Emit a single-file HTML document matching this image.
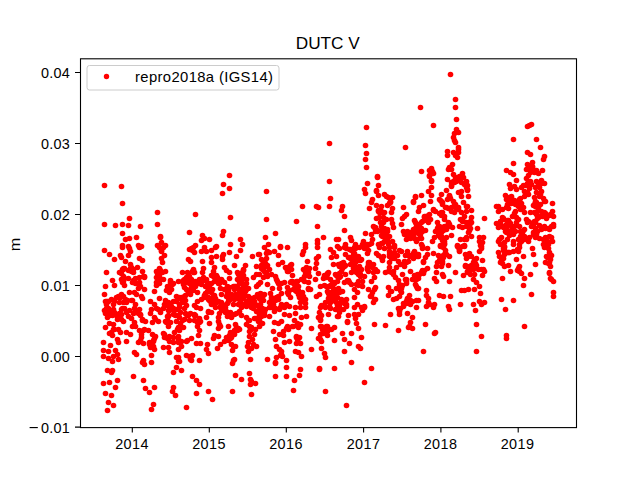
<!DOCTYPE html>
<html><head><meta charset="utf-8">
<style>
html,body{margin:0;padding:0;background:#fff;}
body{width:640px;height:480px;overflow:hidden;font-family:"Liberation Sans",sans-serif;}
svg{display:block}
text{font-family:"Liberation Sans",sans-serif;fill:#000}
</style></head><body>
<svg width="640" height="480" viewBox="0 0 640 480">
<rect x="0" y="0" width="640" height="480" fill="#fff"/>
<g id="dots" fill="#f00">
<circle cx="103.5" cy="342.5" r="2.8"/>
<circle cx="103.5" cy="350.5" r="2.8"/>
<circle cx="103.5" cy="356.5" r="2.8"/>
<circle cx="103.5" cy="383.5" r="2.8"/>
<circle cx="104.5" cy="185.5" r="2.8"/>
<circle cx="104.5" cy="224.5" r="2.8"/>
<circle cx="104.5" cy="250.5" r="2.8"/>
<circle cx="104.5" cy="294.5" r="2.8"/>
<circle cx="104.5" cy="310.5" r="2.8"/>
<circle cx="105.5" cy="286.5" r="2.8"/>
<circle cx="105.5" cy="301.5" r="2.8"/>
<circle cx="105.5" cy="313.5" r="2.8"/>
<circle cx="105.5" cy="327.5" r="2.8"/>
<circle cx="105.5" cy="393.5" r="2.8"/>
<circle cx="106.5" cy="272.5" r="2.8"/>
<circle cx="106.5" cy="301.5" r="2.8"/>
<circle cx="106.5" cy="304.5" r="2.8"/>
<circle cx="106.5" cy="308.5" r="2.8"/>
<circle cx="107.5" cy="301.5" r="2.8"/>
<circle cx="107.5" cy="317.5" r="2.8"/>
<circle cx="107.5" cy="370.5" r="2.8"/>
<circle cx="107.5" cy="410.5" r="2.8"/>
<circle cx="108.5" cy="301.5" r="2.8"/>
<circle cx="108.5" cy="308.5" r="2.8"/>
<circle cx="108.5" cy="351.5" r="2.8"/>
<circle cx="108.5" cy="358.5" r="2.8"/>
<circle cx="108.5" cy="402.5" r="2.8"/>
<circle cx="109.5" cy="254.5" r="2.8"/>
<circle cx="109.5" cy="310.5" r="2.8"/>
<circle cx="109.5" cy="315.5" r="2.8"/>
<circle cx="109.5" cy="323.5" r="2.8"/>
<circle cx="109.5" cy="333.5" r="2.8"/>
<circle cx="109.5" cy="382.5" r="2.8"/>
<circle cx="110.5" cy="314.5" r="2.8"/>
<circle cx="110.5" cy="345.5" r="2.8"/>
<circle cx="111.5" cy="299.5" r="2.8"/>
<circle cx="111.5" cy="312.5" r="2.8"/>
<circle cx="111.5" cy="332.5" r="2.8"/>
<circle cx="111.5" cy="372.5" r="2.8"/>
<circle cx="111.5" cy="395.5" r="2.8"/>
<circle cx="112.5" cy="280.5" r="2.8"/>
<circle cx="112.5" cy="315.5" r="2.8"/>
<circle cx="112.5" cy="335.5" r="2.8"/>
<circle cx="112.5" cy="361.5" r="2.8"/>
<circle cx="112.5" cy="370.5" r="2.8"/>
<circle cx="113.5" cy="304.5" r="2.8"/>
<circle cx="113.5" cy="309.5" r="2.8"/>
<circle cx="113.5" cy="324.5" r="2.8"/>
<circle cx="113.5" cy="329.5" r="2.8"/>
<circle cx="113.5" cy="356.5" r="2.8"/>
<circle cx="113.5" cy="405.5" r="2.8"/>
<circle cx="114.5" cy="259.5" r="2.8"/>
<circle cx="114.5" cy="285.5" r="2.8"/>
<circle cx="114.5" cy="301.5" r="2.8"/>
<circle cx="114.5" cy="312.5" r="2.8"/>
<circle cx="114.5" cy="329.5" r="2.8"/>
<circle cx="115.5" cy="225.5" r="2.8"/>
<circle cx="115.5" cy="350.5" r="2.8"/>
<circle cx="115.5" cy="387.5" r="2.8"/>
<circle cx="116.5" cy="297.5" r="2.8"/>
<circle cx="116.5" cy="315.5" r="2.8"/>
<circle cx="117.5" cy="319.5" r="2.8"/>
<circle cx="117.5" cy="339.5" r="2.8"/>
<circle cx="117.5" cy="354.5" r="2.8"/>
<circle cx="117.5" cy="380.5" r="2.8"/>
<circle cx="118.5" cy="296.5" r="2.8"/>
<circle cx="118.5" cy="297.5" r="2.8"/>
<circle cx="118.5" cy="317.5" r="2.8"/>
<circle cx="118.5" cy="329.5" r="2.8"/>
<circle cx="118.5" cy="342.5" r="2.8"/>
<circle cx="118.5" cy="359.5" r="2.8"/>
<circle cx="119.5" cy="272.5" r="2.8"/>
<circle cx="119.5" cy="302.5" r="2.8"/>
<circle cx="119.5" cy="313.5" r="2.8"/>
<circle cx="120.5" cy="255.5" r="2.8"/>
<circle cx="120.5" cy="272.5" r="2.8"/>
<circle cx="120.5" cy="297.5" r="2.8"/>
<circle cx="120.5" cy="332.5" r="2.8"/>
<circle cx="121.5" cy="186.5" r="2.8"/>
<circle cx="121.5" cy="257.5" r="2.8"/>
<circle cx="121.5" cy="273.5" r="2.8"/>
<circle cx="121.5" cy="279.5" r="2.8"/>
<circle cx="121.5" cy="294.5" r="2.8"/>
<circle cx="121.5" cy="309.5" r="2.8"/>
<circle cx="121.5" cy="314.5" r="2.8"/>
<circle cx="121.5" cy="319.5" r="2.8"/>
<circle cx="122.5" cy="203.5" r="2.8"/>
<circle cx="122.5" cy="224.5" r="2.8"/>
<circle cx="122.5" cy="233.5" r="2.8"/>
<circle cx="122.5" cy="245.5" r="2.8"/>
<circle cx="122.5" cy="247.5" r="2.8"/>
<circle cx="122.5" cy="269.5" r="2.8"/>
<circle cx="122.5" cy="282.5" r="2.8"/>
<circle cx="122.5" cy="308.5" r="2.8"/>
<circle cx="123.5" cy="268.5" r="2.8"/>
<circle cx="123.5" cy="269.5" r="2.8"/>
<circle cx="123.5" cy="276.5" r="2.8"/>
<circle cx="123.5" cy="281.5" r="2.8"/>
<circle cx="123.5" cy="296.5" r="2.8"/>
<circle cx="123.5" cy="302.5" r="2.8"/>
<circle cx="123.5" cy="321.5" r="2.8"/>
<circle cx="124.5" cy="268.5" r="2.8"/>
<circle cx="124.5" cy="278.5" r="2.8"/>
<circle cx="124.5" cy="285.5" r="2.8"/>
<circle cx="124.5" cy="308.5" r="2.8"/>
<circle cx="125.5" cy="239.5" r="2.8"/>
<circle cx="125.5" cy="261.5" r="2.8"/>
<circle cx="125.5" cy="299.5" r="2.8"/>
<circle cx="126.5" cy="302.5" r="2.8"/>
<circle cx="126.5" cy="312.5" r="2.8"/>
<circle cx="126.5" cy="332.5" r="2.8"/>
<circle cx="126.5" cy="341.5" r="2.8"/>
<circle cx="127.5" cy="300.5" r="2.8"/>
<circle cx="128.5" cy="225.5" r="2.8"/>
<circle cx="128.5" cy="246.5" r="2.8"/>
<circle cx="128.5" cy="255.5" r="2.8"/>
<circle cx="128.5" cy="270.5" r="2.8"/>
<circle cx="128.5" cy="278.5" r="2.8"/>
<circle cx="128.5" cy="316.5" r="2.8"/>
<circle cx="129.5" cy="218.5" r="2.8"/>
<circle cx="129.5" cy="238.5" r="2.8"/>
<circle cx="129.5" cy="248.5" r="2.8"/>
<circle cx="129.5" cy="292.5" r="2.8"/>
<circle cx="129.5" cy="310.5" r="2.8"/>
<circle cx="130.5" cy="251.5" r="2.8"/>
<circle cx="130.5" cy="264.5" r="2.8"/>
<circle cx="130.5" cy="268.5" r="2.8"/>
<circle cx="130.5" cy="334.5" r="2.8"/>
<circle cx="131.5" cy="267.5" r="2.8"/>
<circle cx="131.5" cy="271.5" r="2.8"/>
<circle cx="131.5" cy="300.5" r="2.8"/>
<circle cx="131.5" cy="318.5" r="2.8"/>
<circle cx="132.5" cy="269.5" r="2.8"/>
<circle cx="132.5" cy="282.5" r="2.8"/>
<circle cx="132.5" cy="300.5" r="2.8"/>
<circle cx="132.5" cy="326.5" r="2.8"/>
<circle cx="133.5" cy="269.5" r="2.8"/>
<circle cx="133.5" cy="272.5" r="2.8"/>
<circle cx="133.5" cy="280.5" r="2.8"/>
<circle cx="133.5" cy="313.5" r="2.8"/>
<circle cx="133.5" cy="376.5" r="2.8"/>
<circle cx="134.5" cy="292.5" r="2.8"/>
<circle cx="134.5" cy="308.5" r="2.8"/>
<circle cx="134.5" cy="322.5" r="2.8"/>
<circle cx="134.5" cy="352.5" r="2.8"/>
<circle cx="135.5" cy="278.5" r="2.8"/>
<circle cx="135.5" cy="283.5" r="2.8"/>
<circle cx="135.5" cy="304.5" r="2.8"/>
<circle cx="135.5" cy="310.5" r="2.8"/>
<circle cx="135.5" cy="311.5" r="2.8"/>
<circle cx="135.5" cy="312.5" r="2.8"/>
<circle cx="135.5" cy="326.5" r="2.8"/>
<circle cx="136.5" cy="237.5" r="2.8"/>
<circle cx="136.5" cy="294.5" r="2.8"/>
<circle cx="136.5" cy="354.5" r="2.8"/>
<circle cx="137.5" cy="267.5" r="2.8"/>
<circle cx="138.5" cy="245.5" r="2.8"/>
<circle cx="138.5" cy="288.5" r="2.8"/>
<circle cx="138.5" cy="313.5" r="2.8"/>
<circle cx="138.5" cy="342.5" r="2.8"/>
<circle cx="139.5" cy="247.5" r="2.8"/>
<circle cx="139.5" cy="258.5" r="2.8"/>
<circle cx="139.5" cy="277.5" r="2.8"/>
<circle cx="139.5" cy="282.5" r="2.8"/>
<circle cx="139.5" cy="286.5" r="2.8"/>
<circle cx="139.5" cy="309.5" r="2.8"/>
<circle cx="139.5" cy="330.5" r="2.8"/>
<circle cx="140.5" cy="226.5" r="2.8"/>
<circle cx="140.5" cy="286.5" r="2.8"/>
<circle cx="140.5" cy="314.5" r="2.8"/>
<circle cx="140.5" cy="315.5" r="2.8"/>
<circle cx="140.5" cy="340.5" r="2.8"/>
<circle cx="141.5" cy="246.5" r="2.8"/>
<circle cx="141.5" cy="296.5" r="2.8"/>
<circle cx="141.5" cy="334.5" r="2.8"/>
<circle cx="141.5" cy="337.5" r="2.8"/>
<circle cx="142.5" cy="260.5" r="2.8"/>
<circle cx="142.5" cy="271.5" r="2.8"/>
<circle cx="142.5" cy="298.5" r="2.8"/>
<circle cx="142.5" cy="319.5" r="2.8"/>
<circle cx="142.5" cy="320.5" r="2.8"/>
<circle cx="142.5" cy="362.5" r="2.8"/>
<circle cx="143.5" cy="276.5" r="2.8"/>
<circle cx="143.5" cy="330.5" r="2.8"/>
<circle cx="143.5" cy="343.5" r="2.8"/>
<circle cx="143.5" cy="360.5" r="2.8"/>
<circle cx="143.5" cy="380.5" r="2.8"/>
<circle cx="144.5" cy="276.5" r="2.8"/>
<circle cx="144.5" cy="277.5" r="2.8"/>
<circle cx="144.5" cy="289.5" r="2.8"/>
<circle cx="144.5" cy="329.5" r="2.8"/>
<circle cx="144.5" cy="364.5" r="2.8"/>
<circle cx="145.5" cy="321.5" r="2.8"/>
<circle cx="145.5" cy="388.5" r="2.8"/>
<circle cx="148.5" cy="330.5" r="2.8"/>
<circle cx="149.5" cy="342.5" r="2.8"/>
<circle cx="149.5" cy="344.5" r="2.8"/>
<circle cx="149.5" cy="392.5" r="2.8"/>
<circle cx="150.5" cy="301.5" r="2.8"/>
<circle cx="150.5" cy="313.5" r="2.8"/>
<circle cx="150.5" cy="347.5" r="2.8"/>
<circle cx="151.5" cy="309.5" r="2.8"/>
<circle cx="151.5" cy="355.5" r="2.8"/>
<circle cx="151.5" cy="362.5" r="2.8"/>
<circle cx="151.5" cy="409.5" r="2.8"/>
<circle cx="152.5" cy="322.5" r="2.8"/>
<circle cx="152.5" cy="334.5" r="2.8"/>
<circle cx="153.5" cy="340.5" r="2.8"/>
<circle cx="153.5" cy="341.5" r="2.8"/>
<circle cx="153.5" cy="346.5" r="2.8"/>
<circle cx="153.5" cy="404.5" r="2.8"/>
<circle cx="154.5" cy="291.5" r="2.8"/>
<circle cx="154.5" cy="304.5" r="2.8"/>
<circle cx="154.5" cy="317.5" r="2.8"/>
<circle cx="154.5" cy="338.5" r="2.8"/>
<circle cx="154.5" cy="349.5" r="2.8"/>
<circle cx="154.5" cy="387.5" r="2.8"/>
<circle cx="155.5" cy="319.5" r="2.8"/>
<circle cx="155.5" cy="336.5" r="2.8"/>
<circle cx="156.5" cy="271.5" r="2.8"/>
<circle cx="156.5" cy="277.5" r="2.8"/>
<circle cx="156.5" cy="282.5" r="2.8"/>
<circle cx="156.5" cy="285.5" r="2.8"/>
<circle cx="156.5" cy="308.5" r="2.8"/>
<circle cx="157.5" cy="212.5" r="2.8"/>
<circle cx="157.5" cy="224.5" r="2.8"/>
<circle cx="157.5" cy="245.5" r="2.8"/>
<circle cx="157.5" cy="273.5" r="2.8"/>
<circle cx="158.5" cy="309.5" r="2.8"/>
<circle cx="158.5" cy="321.5" r="2.8"/>
<circle cx="159.5" cy="247.5" r="2.8"/>
<circle cx="159.5" cy="268.5" r="2.8"/>
<circle cx="159.5" cy="276.5" r="2.8"/>
<circle cx="159.5" cy="283.5" r="2.8"/>
<circle cx="159.5" cy="298.5" r="2.8"/>
<circle cx="160.5" cy="236.5" r="2.8"/>
<circle cx="160.5" cy="237.5" r="2.8"/>
<circle cx="160.5" cy="270.5" r="2.8"/>
<circle cx="160.5" cy="272.5" r="2.8"/>
<circle cx="160.5" cy="279.5" r="2.8"/>
<circle cx="160.5" cy="312.5" r="2.8"/>
<circle cx="161.5" cy="242.5" r="2.8"/>
<circle cx="161.5" cy="250.5" r="2.8"/>
<circle cx="161.5" cy="251.5" r="2.8"/>
<circle cx="161.5" cy="258.5" r="2.8"/>
<circle cx="162.5" cy="262.5" r="2.8"/>
<circle cx="162.5" cy="272.5" r="2.8"/>
<circle cx="163.5" cy="247.5" r="2.8"/>
<circle cx="163.5" cy="279.5" r="2.8"/>
<circle cx="163.5" cy="308.5" r="2.8"/>
<circle cx="163.5" cy="333.5" r="2.8"/>
<circle cx="163.5" cy="347.5" r="2.8"/>
<circle cx="164.5" cy="255.5" r="2.8"/>
<circle cx="164.5" cy="304.5" r="2.8"/>
<circle cx="164.5" cy="334.5" r="2.8"/>
<circle cx="164.5" cy="337.5" r="2.8"/>
<circle cx="165.5" cy="245.5" r="2.8"/>
<circle cx="165.5" cy="271.5" r="2.8"/>
<circle cx="165.5" cy="300.5" r="2.8"/>
<circle cx="165.5" cy="304.5" r="2.8"/>
<circle cx="165.5" cy="305.5" r="2.8"/>
<circle cx="165.5" cy="321.5" r="2.8"/>
<circle cx="166.5" cy="290.5" r="2.8"/>
<circle cx="166.5" cy="322.5" r="2.8"/>
<circle cx="167.5" cy="286.5" r="2.8"/>
<circle cx="167.5" cy="305.5" r="2.8"/>
<circle cx="167.5" cy="316.5" r="2.8"/>
<circle cx="167.5" cy="320.5" r="2.8"/>
<circle cx="167.5" cy="338.5" r="2.8"/>
<circle cx="168.5" cy="286.5" r="2.8"/>
<circle cx="168.5" cy="302.5" r="2.8"/>
<circle cx="168.5" cy="310.5" r="2.8"/>
<circle cx="168.5" cy="315.5" r="2.8"/>
<circle cx="168.5" cy="316.5" r="2.8"/>
<circle cx="168.5" cy="326.5" r="2.8"/>
<circle cx="168.5" cy="347.5" r="2.8"/>
<circle cx="169.5" cy="292.5" r="2.8"/>
<circle cx="169.5" cy="310.5" r="2.8"/>
<circle cx="169.5" cy="336.5" r="2.8"/>
<circle cx="169.5" cy="341.5" r="2.8"/>
<circle cx="169.5" cy="352.5" r="2.8"/>
<circle cx="170.5" cy="280.5" r="2.8"/>
<circle cx="170.5" cy="282.5" r="2.8"/>
<circle cx="170.5" cy="289.5" r="2.8"/>
<circle cx="170.5" cy="304.5" r="2.8"/>
<circle cx="170.5" cy="322.5" r="2.8"/>
<circle cx="171.5" cy="289.5" r="2.8"/>
<circle cx="171.5" cy="306.5" r="2.8"/>
<circle cx="172.5" cy="284.5" r="2.8"/>
<circle cx="172.5" cy="391.5" r="2.8"/>
<circle cx="173.5" cy="283.5" r="2.8"/>
<circle cx="173.5" cy="301.5" r="2.8"/>
<circle cx="173.5" cy="308.5" r="2.8"/>
<circle cx="173.5" cy="314.5" r="2.8"/>
<circle cx="173.5" cy="337.5" r="2.8"/>
<circle cx="173.5" cy="342.5" r="2.8"/>
<circle cx="173.5" cy="372.5" r="2.8"/>
<circle cx="173.5" cy="387.5" r="2.8"/>
<circle cx="174.5" cy="309.5" r="2.8"/>
<circle cx="174.5" cy="310.5" r="2.8"/>
<circle cx="174.5" cy="332.5" r="2.8"/>
<circle cx="175.5" cy="315.5" r="2.8"/>
<circle cx="175.5" cy="395.5" r="2.8"/>
<circle cx="176.5" cy="296.5" r="2.8"/>
<circle cx="176.5" cy="301.5" r="2.8"/>
<circle cx="176.5" cy="309.5" r="2.8"/>
<circle cx="176.5" cy="321.5" r="2.8"/>
<circle cx="176.5" cy="357.5" r="2.8"/>
<circle cx="176.5" cy="367.5" r="2.8"/>
<circle cx="177.5" cy="329.5" r="2.8"/>
<circle cx="178.5" cy="281.5" r="2.8"/>
<circle cx="178.5" cy="315.5" r="2.8"/>
<circle cx="178.5" cy="327.5" r="2.8"/>
<circle cx="178.5" cy="336.5" r="2.8"/>
<circle cx="178.5" cy="339.5" r="2.8"/>
<circle cx="178.5" cy="342.5" r="2.8"/>
<circle cx="178.5" cy="349.5" r="2.8"/>
<circle cx="178.5" cy="357.5" r="2.8"/>
<circle cx="178.5" cy="361.5" r="2.8"/>
<circle cx="179.5" cy="297.5" r="2.8"/>
<circle cx="179.5" cy="304.5" r="2.8"/>
<circle cx="179.5" cy="307.5" r="2.8"/>
<circle cx="179.5" cy="317.5" r="2.8"/>
<circle cx="179.5" cy="330.5" r="2.8"/>
<circle cx="179.5" cy="361.5" r="2.8"/>
<circle cx="180.5" cy="312.5" r="2.8"/>
<circle cx="180.5" cy="323.5" r="2.8"/>
<circle cx="181.5" cy="297.5" r="2.8"/>
<circle cx="181.5" cy="299.5" r="2.8"/>
<circle cx="181.5" cy="341.5" r="2.8"/>
<circle cx="181.5" cy="346.5" r="2.8"/>
<circle cx="181.5" cy="370.5" r="2.8"/>
<circle cx="182.5" cy="272.5" r="2.8"/>
<circle cx="182.5" cy="281.5" r="2.8"/>
<circle cx="182.5" cy="302.5" r="2.8"/>
<circle cx="182.5" cy="320.5" r="2.8"/>
<circle cx="183.5" cy="280.5" r="2.8"/>
<circle cx="183.5" cy="284.5" r="2.8"/>
<circle cx="183.5" cy="327.5" r="2.8"/>
<circle cx="184.5" cy="279.5" r="2.8"/>
<circle cx="184.5" cy="280.5" r="2.8"/>
<circle cx="184.5" cy="287.5" r="2.8"/>
<circle cx="184.5" cy="296.5" r="2.8"/>
<circle cx="184.5" cy="308.5" r="2.8"/>
<circle cx="184.5" cy="319.5" r="2.8"/>
<circle cx="185.5" cy="279.5" r="2.8"/>
<circle cx="185.5" cy="295.5" r="2.8"/>
<circle cx="185.5" cy="300.5" r="2.8"/>
<circle cx="185.5" cy="313.5" r="2.8"/>
<circle cx="186.5" cy="277.5" r="2.8"/>
<circle cx="186.5" cy="281.5" r="2.8"/>
<circle cx="186.5" cy="282.5" r="2.8"/>
<circle cx="186.5" cy="289.5" r="2.8"/>
<circle cx="186.5" cy="305.5" r="2.8"/>
<circle cx="186.5" cy="314.5" r="2.8"/>
<circle cx="186.5" cy="341.5" r="2.8"/>
<circle cx="186.5" cy="355.5" r="2.8"/>
<circle cx="186.5" cy="407.5" r="2.8"/>
<circle cx="187.5" cy="272.5" r="2.8"/>
<circle cx="187.5" cy="281.5" r="2.8"/>
<circle cx="187.5" cy="290.5" r="2.8"/>
<circle cx="187.5" cy="315.5" r="2.8"/>
<circle cx="187.5" cy="340.5" r="2.8"/>
<circle cx="188.5" cy="259.5" r="2.8"/>
<circle cx="188.5" cy="273.5" r="2.8"/>
<circle cx="188.5" cy="277.5" r="2.8"/>
<circle cx="188.5" cy="314.5" r="2.8"/>
<circle cx="188.5" cy="315.5" r="2.8"/>
<circle cx="189.5" cy="232.5" r="2.8"/>
<circle cx="189.5" cy="249.5" r="2.8"/>
<circle cx="189.5" cy="276.5" r="2.8"/>
<circle cx="189.5" cy="283.5" r="2.8"/>
<circle cx="189.5" cy="290.5" r="2.8"/>
<circle cx="189.5" cy="291.5" r="2.8"/>
<circle cx="189.5" cy="292.5" r="2.8"/>
<circle cx="189.5" cy="320.5" r="2.8"/>
<circle cx="189.5" cy="356.5" r="2.8"/>
<circle cx="190.5" cy="261.5" r="2.8"/>
<circle cx="190.5" cy="294.5" r="2.8"/>
<circle cx="190.5" cy="313.5" r="2.8"/>
<circle cx="190.5" cy="359.5" r="2.8"/>
<circle cx="191.5" cy="248.5" r="2.8"/>
<circle cx="191.5" cy="279.5" r="2.8"/>
<circle cx="191.5" cy="287.5" r="2.8"/>
<circle cx="191.5" cy="338.5" r="2.8"/>
<circle cx="191.5" cy="356.5" r="2.8"/>
<circle cx="191.5" cy="360.5" r="2.8"/>
<circle cx="192.5" cy="250.5" r="2.8"/>
<circle cx="192.5" cy="271.5" r="2.8"/>
<circle cx="192.5" cy="355.5" r="2.8"/>
<circle cx="192.5" cy="376.5" r="2.8"/>
<circle cx="193.5" cy="247.5" r="2.8"/>
<circle cx="193.5" cy="269.5" r="2.8"/>
<circle cx="193.5" cy="271.5" r="2.8"/>
<circle cx="193.5" cy="272.5" r="2.8"/>
<circle cx="193.5" cy="285.5" r="2.8"/>
<circle cx="193.5" cy="290.5" r="2.8"/>
<circle cx="194.5" cy="252.5" r="2.8"/>
<circle cx="194.5" cy="272.5" r="2.8"/>
<circle cx="194.5" cy="282.5" r="2.8"/>
<circle cx="194.5" cy="305.5" r="2.8"/>
<circle cx="194.5" cy="314.5" r="2.8"/>
<circle cx="194.5" cy="315.5" r="2.8"/>
<circle cx="194.5" cy="320.5" r="2.8"/>
<circle cx="195.5" cy="214.5" r="2.8"/>
<circle cx="195.5" cy="245.5" r="2.8"/>
<circle cx="195.5" cy="281.5" r="2.8"/>
<circle cx="195.5" cy="282.5" r="2.8"/>
<circle cx="195.5" cy="286.5" r="2.8"/>
<circle cx="195.5" cy="315.5" r="2.8"/>
<circle cx="196.5" cy="307.5" r="2.8"/>
<circle cx="196.5" cy="343.5" r="2.8"/>
<circle cx="196.5" cy="380.5" r="2.8"/>
<circle cx="196.5" cy="393.5" r="2.8"/>
<circle cx="197.5" cy="281.5" r="2.8"/>
<circle cx="197.5" cy="292.5" r="2.8"/>
<circle cx="197.5" cy="301.5" r="2.8"/>
<circle cx="197.5" cy="322.5" r="2.8"/>
<circle cx="197.5" cy="326.5" r="2.8"/>
<circle cx="198.5" cy="283.5" r="2.8"/>
<circle cx="198.5" cy="320.5" r="2.8"/>
<circle cx="198.5" cy="321.5" r="2.8"/>
<circle cx="198.5" cy="335.5" r="2.8"/>
<circle cx="199.5" cy="279.5" r="2.8"/>
<circle cx="199.5" cy="318.5" r="2.8"/>
<circle cx="199.5" cy="322.5" r="2.8"/>
<circle cx="199.5" cy="330.5" r="2.8"/>
<circle cx="199.5" cy="360.5" r="2.8"/>
<circle cx="199.5" cy="384.5" r="2.8"/>
<circle cx="200.5" cy="308.5" r="2.8"/>
<circle cx="200.5" cy="321.5" r="2.8"/>
<circle cx="200.5" cy="343.5" r="2.8"/>
<circle cx="201.5" cy="240.5" r="2.8"/>
<circle cx="201.5" cy="251.5" r="2.8"/>
<circle cx="201.5" cy="284.5" r="2.8"/>
<circle cx="201.5" cy="299.5" r="2.8"/>
<circle cx="202.5" cy="235.5" r="2.8"/>
<circle cx="202.5" cy="261.5" r="2.8"/>
<circle cx="202.5" cy="272.5" r="2.8"/>
<circle cx="202.5" cy="279.5" r="2.8"/>
<circle cx="203.5" cy="268.5" r="2.8"/>
<circle cx="203.5" cy="277.5" r="2.8"/>
<circle cx="203.5" cy="280.5" r="2.8"/>
<circle cx="204.5" cy="238.5" r="2.8"/>
<circle cx="204.5" cy="247.5" r="2.8"/>
<circle cx="204.5" cy="279.5" r="2.8"/>
<circle cx="204.5" cy="295.5" r="2.8"/>
<circle cx="204.5" cy="296.5" r="2.8"/>
<circle cx="204.5" cy="297.5" r="2.8"/>
<circle cx="205.5" cy="280.5" r="2.8"/>
<circle cx="205.5" cy="286.5" r="2.8"/>
<circle cx="205.5" cy="293.5" r="2.8"/>
<circle cx="205.5" cy="296.5" r="2.8"/>
<circle cx="206.5" cy="251.5" r="2.8"/>
<circle cx="206.5" cy="279.5" r="2.8"/>
<circle cx="206.5" cy="296.5" r="2.8"/>
<circle cx="206.5" cy="317.5" r="2.8"/>
<circle cx="206.5" cy="349.5" r="2.8"/>
<circle cx="207.5" cy="283.5" r="2.8"/>
<circle cx="207.5" cy="291.5" r="2.8"/>
<circle cx="207.5" cy="297.5" r="2.8"/>
<circle cx="207.5" cy="344.5" r="2.8"/>
<circle cx="208.5" cy="288.5" r="2.8"/>
<circle cx="208.5" cy="297.5" r="2.8"/>
<circle cx="208.5" cy="299.5" r="2.8"/>
<circle cx="208.5" cy="311.5" r="2.8"/>
<circle cx="208.5" cy="312.5" r="2.8"/>
<circle cx="208.5" cy="353.5" r="2.8"/>
<circle cx="208.5" cy="391.5" r="2.8"/>
<circle cx="209.5" cy="239.5" r="2.8"/>
<circle cx="209.5" cy="283.5" r="2.8"/>
<circle cx="209.5" cy="287.5" r="2.8"/>
<circle cx="209.5" cy="288.5" r="2.8"/>
<circle cx="209.5" cy="290.5" r="2.8"/>
<circle cx="209.5" cy="291.5" r="2.8"/>
<circle cx="209.5" cy="298.5" r="2.8"/>
<circle cx="209.5" cy="300.5" r="2.8"/>
<circle cx="209.5" cy="323.5" r="2.8"/>
<circle cx="210.5" cy="301.5" r="2.8"/>
<circle cx="211.5" cy="250.5" r="2.8"/>
<circle cx="211.5" cy="257.5" r="2.8"/>
<circle cx="211.5" cy="262.5" r="2.8"/>
<circle cx="211.5" cy="275.5" r="2.8"/>
<circle cx="211.5" cy="283.5" r="2.8"/>
<circle cx="211.5" cy="292.5" r="2.8"/>
<circle cx="211.5" cy="304.5" r="2.8"/>
<circle cx="211.5" cy="312.5" r="2.8"/>
<circle cx="212.5" cy="289.5" r="2.8"/>
<circle cx="212.5" cy="399.5" r="2.8"/>
<circle cx="213.5" cy="271.5" r="2.8"/>
<circle cx="213.5" cy="276.5" r="2.8"/>
<circle cx="213.5" cy="296.5" r="2.8"/>
<circle cx="213.5" cy="297.5" r="2.8"/>
<circle cx="213.5" cy="338.5" r="2.8"/>
<circle cx="214.5" cy="267.5" r="2.8"/>
<circle cx="214.5" cy="281.5" r="2.8"/>
<circle cx="214.5" cy="295.5" r="2.8"/>
<circle cx="214.5" cy="300.5" r="2.8"/>
<circle cx="214.5" cy="335.5" r="2.8"/>
<circle cx="215.5" cy="247.5" r="2.8"/>
<circle cx="215.5" cy="277.5" r="2.8"/>
<circle cx="215.5" cy="279.5" r="2.8"/>
<circle cx="215.5" cy="298.5" r="2.8"/>
<circle cx="215.5" cy="303.5" r="2.8"/>
<circle cx="215.5" cy="307.5" r="2.8"/>
<circle cx="216.5" cy="246.5" r="2.8"/>
<circle cx="216.5" cy="256.5" r="2.8"/>
<circle cx="216.5" cy="275.5" r="2.8"/>
<circle cx="216.5" cy="277.5" r="2.8"/>
<circle cx="216.5" cy="279.5" r="2.8"/>
<circle cx="217.5" cy="277.5" r="2.8"/>
<circle cx="217.5" cy="348.5" r="2.8"/>
<circle cx="218.5" cy="283.5" r="2.8"/>
<circle cx="218.5" cy="301.5" r="2.8"/>
<circle cx="218.5" cy="317.5" r="2.8"/>
<circle cx="218.5" cy="321.5" r="2.8"/>
<circle cx="218.5" cy="328.5" r="2.8"/>
<circle cx="218.5" cy="336.5" r="2.8"/>
<circle cx="219.5" cy="283.5" r="2.8"/>
<circle cx="219.5" cy="313.5" r="2.8"/>
<circle cx="219.5" cy="324.5" r="2.8"/>
<circle cx="220.5" cy="288.5" r="2.8"/>
<circle cx="220.5" cy="302.5" r="2.8"/>
<circle cx="220.5" cy="306.5" r="2.8"/>
<circle cx="220.5" cy="307.5" r="2.8"/>
<circle cx="220.5" cy="326.5" r="2.8"/>
<circle cx="220.5" cy="344.5" r="2.8"/>
<circle cx="221.5" cy="279.5" r="2.8"/>
<circle cx="221.5" cy="294.5" r="2.8"/>
<circle cx="221.5" cy="302.5" r="2.8"/>
<circle cx="221.5" cy="304.5" r="2.8"/>
<circle cx="221.5" cy="309.5" r="2.8"/>
<circle cx="222.5" cy="193.5" r="2.8"/>
<circle cx="222.5" cy="235.5" r="2.8"/>
<circle cx="222.5" cy="256.5" r="2.8"/>
<circle cx="222.5" cy="259.5" r="2.8"/>
<circle cx="222.5" cy="281.5" r="2.8"/>
<circle cx="222.5" cy="304.5" r="2.8"/>
<circle cx="223.5" cy="184.5" r="2.8"/>
<circle cx="223.5" cy="231.5" r="2.8"/>
<circle cx="223.5" cy="254.5" r="2.8"/>
<circle cx="223.5" cy="307.5" r="2.8"/>
<circle cx="223.5" cy="308.5" r="2.8"/>
<circle cx="223.5" cy="310.5" r="2.8"/>
<circle cx="224.5" cy="267.5" r="2.8"/>
<circle cx="224.5" cy="282.5" r="2.8"/>
<circle cx="224.5" cy="289.5" r="2.8"/>
<circle cx="224.5" cy="341.5" r="2.8"/>
<circle cx="225.5" cy="307.5" r="2.8"/>
<circle cx="225.5" cy="312.5" r="2.8"/>
<circle cx="226.5" cy="270.5" r="2.8"/>
<circle cx="226.5" cy="296.5" r="2.8"/>
<circle cx="226.5" cy="311.5" r="2.8"/>
<circle cx="226.5" cy="337.5" r="2.8"/>
<circle cx="227.5" cy="286.5" r="2.8"/>
<circle cx="227.5" cy="292.5" r="2.8"/>
<circle cx="227.5" cy="294.5" r="2.8"/>
<circle cx="227.5" cy="303.5" r="2.8"/>
<circle cx="227.5" cy="316.5" r="2.8"/>
<circle cx="228.5" cy="287.5" r="2.8"/>
<circle cx="228.5" cy="290.5" r="2.8"/>
<circle cx="228.5" cy="298.5" r="2.8"/>
<circle cx="228.5" cy="301.5" r="2.8"/>
<circle cx="228.5" cy="326.5" r="2.8"/>
<circle cx="228.5" cy="338.5" r="2.8"/>
<circle cx="228.5" cy="339.5" r="2.8"/>
<circle cx="228.5" cy="340.5" r="2.8"/>
<circle cx="229.5" cy="175.5" r="2.8"/>
<circle cx="229.5" cy="188.5" r="2.8"/>
<circle cx="229.5" cy="252.5" r="2.8"/>
<circle cx="229.5" cy="272.5" r="2.8"/>
<circle cx="229.5" cy="278.5" r="2.8"/>
<circle cx="229.5" cy="287.5" r="2.8"/>
<circle cx="229.5" cy="298.5" r="2.8"/>
<circle cx="229.5" cy="335.5" r="2.8"/>
<circle cx="230.5" cy="217.5" r="2.8"/>
<circle cx="230.5" cy="244.5" r="2.8"/>
<circle cx="230.5" cy="299.5" r="2.8"/>
<circle cx="230.5" cy="312.5" r="2.8"/>
<circle cx="230.5" cy="332.5" r="2.8"/>
<circle cx="230.5" cy="338.5" r="2.8"/>
<circle cx="231.5" cy="294.5" r="2.8"/>
<circle cx="231.5" cy="295.5" r="2.8"/>
<circle cx="231.5" cy="317.5" r="2.8"/>
<circle cx="231.5" cy="337.5" r="2.8"/>
<circle cx="231.5" cy="344.5" r="2.8"/>
<circle cx="232.5" cy="350.5" r="2.8"/>
<circle cx="232.5" cy="363.5" r="2.8"/>
<circle cx="232.5" cy="391.5" r="2.8"/>
<circle cx="233.5" cy="286.5" r="2.8"/>
<circle cx="233.5" cy="304.5" r="2.8"/>
<circle cx="233.5" cy="346.5" r="2.8"/>
<circle cx="233.5" cy="360.5" r="2.8"/>
<circle cx="234.5" cy="265.5" r="2.8"/>
<circle cx="234.5" cy="286.5" r="2.8"/>
<circle cx="234.5" cy="289.5" r="2.8"/>
<circle cx="234.5" cy="299.5" r="2.8"/>
<circle cx="234.5" cy="314.5" r="2.8"/>
<circle cx="234.5" cy="330.5" r="2.8"/>
<circle cx="234.5" cy="334.5" r="2.8"/>
<circle cx="234.5" cy="359.5" r="2.8"/>
<circle cx="235.5" cy="286.5" r="2.8"/>
<circle cx="235.5" cy="294.5" r="2.8"/>
<circle cx="235.5" cy="324.5" r="2.8"/>
<circle cx="235.5" cy="346.5" r="2.8"/>
<circle cx="235.5" cy="375.5" r="2.8"/>
<circle cx="236.5" cy="256.5" r="2.8"/>
<circle cx="236.5" cy="286.5" r="2.8"/>
<circle cx="236.5" cy="288.5" r="2.8"/>
<circle cx="236.5" cy="313.5" r="2.8"/>
<circle cx="236.5" cy="327.5" r="2.8"/>
<circle cx="237.5" cy="272.5" r="2.8"/>
<circle cx="237.5" cy="279.5" r="2.8"/>
<circle cx="237.5" cy="297.5" r="2.8"/>
<circle cx="237.5" cy="330.5" r="2.8"/>
<circle cx="238.5" cy="274.5" r="2.8"/>
<circle cx="238.5" cy="279.5" r="2.8"/>
<circle cx="238.5" cy="288.5" r="2.8"/>
<circle cx="238.5" cy="296.5" r="2.8"/>
<circle cx="238.5" cy="304.5" r="2.8"/>
<circle cx="238.5" cy="328.5" r="2.8"/>
<circle cx="239.5" cy="282.5" r="2.8"/>
<circle cx="239.5" cy="292.5" r="2.8"/>
<circle cx="239.5" cy="299.5" r="2.8"/>
<circle cx="239.5" cy="311.5" r="2.8"/>
<circle cx="239.5" cy="329.5" r="2.8"/>
<circle cx="240.5" cy="239.5" r="2.8"/>
<circle cx="240.5" cy="250.5" r="2.8"/>
<circle cx="240.5" cy="276.5" r="2.8"/>
<circle cx="240.5" cy="281.5" r="2.8"/>
<circle cx="240.5" cy="283.5" r="2.8"/>
<circle cx="240.5" cy="290.5" r="2.8"/>
<circle cx="240.5" cy="301.5" r="2.8"/>
<circle cx="240.5" cy="303.5" r="2.8"/>
<circle cx="241.5" cy="277.5" r="2.8"/>
<circle cx="241.5" cy="296.5" r="2.8"/>
<circle cx="241.5" cy="307.5" r="2.8"/>
<circle cx="241.5" cy="315.5" r="2.8"/>
<circle cx="241.5" cy="379.5" r="2.8"/>
<circle cx="242.5" cy="244.5" r="2.8"/>
<circle cx="242.5" cy="272.5" r="2.8"/>
<circle cx="242.5" cy="274.5" r="2.8"/>
<circle cx="242.5" cy="279.5" r="2.8"/>
<circle cx="242.5" cy="294.5" r="2.8"/>
<circle cx="243.5" cy="269.5" r="2.8"/>
<circle cx="243.5" cy="270.5" r="2.8"/>
<circle cx="243.5" cy="275.5" r="2.8"/>
<circle cx="243.5" cy="284.5" r="2.8"/>
<circle cx="243.5" cy="287.5" r="2.8"/>
<circle cx="243.5" cy="292.5" r="2.8"/>
<circle cx="243.5" cy="298.5" r="2.8"/>
<circle cx="244.5" cy="294.5" r="2.8"/>
<circle cx="244.5" cy="304.5" r="2.8"/>
<circle cx="245.5" cy="265.5" r="2.8"/>
<circle cx="245.5" cy="288.5" r="2.8"/>
<circle cx="245.5" cy="291.5" r="2.8"/>
<circle cx="246.5" cy="279.5" r="2.8"/>
<circle cx="246.5" cy="283.5" r="2.8"/>
<circle cx="246.5" cy="289.5" r="2.8"/>
<circle cx="246.5" cy="301.5" r="2.8"/>
<circle cx="246.5" cy="306.5" r="2.8"/>
<circle cx="246.5" cy="317.5" r="2.8"/>
<circle cx="246.5" cy="324.5" r="2.8"/>
<circle cx="247.5" cy="346.5" r="2.8"/>
<circle cx="248.5" cy="288.5" r="2.8"/>
<circle cx="248.5" cy="296.5" r="2.8"/>
<circle cx="248.5" cy="320.5" r="2.8"/>
<circle cx="248.5" cy="342.5" r="2.8"/>
<circle cx="248.5" cy="351.5" r="2.8"/>
<circle cx="249.5" cy="299.5" r="2.8"/>
<circle cx="249.5" cy="304.5" r="2.8"/>
<circle cx="249.5" cy="320.5" r="2.8"/>
<circle cx="249.5" cy="326.5" r="2.8"/>
<circle cx="249.5" cy="331.5" r="2.8"/>
<circle cx="249.5" cy="336.5" r="2.8"/>
<circle cx="249.5" cy="373.5" r="2.8"/>
<circle cx="250.5" cy="359.5" r="2.8"/>
<circle cx="250.5" cy="379.5" r="2.8"/>
<circle cx="250.5" cy="384.5" r="2.8"/>
<circle cx="251.5" cy="298.5" r="2.8"/>
<circle cx="251.5" cy="307.5" r="2.8"/>
<circle cx="251.5" cy="327.5" r="2.8"/>
<circle cx="251.5" cy="329.5" r="2.8"/>
<circle cx="251.5" cy="348.5" r="2.8"/>
<circle cx="251.5" cy="381.5" r="2.8"/>
<circle cx="251.5" cy="394.5" r="2.8"/>
<circle cx="252.5" cy="256.5" r="2.8"/>
<circle cx="252.5" cy="302.5" r="2.8"/>
<circle cx="252.5" cy="339.5" r="2.8"/>
<circle cx="253.5" cy="277.5" r="2.8"/>
<circle cx="253.5" cy="302.5" r="2.8"/>
<circle cx="253.5" cy="308.5" r="2.8"/>
<circle cx="253.5" cy="344.5" r="2.8"/>
<circle cx="254.5" cy="297.5" r="2.8"/>
<circle cx="254.5" cy="301.5" r="2.8"/>
<circle cx="254.5" cy="318.5" r="2.8"/>
<circle cx="254.5" cy="334.5" r="2.8"/>
<circle cx="255.5" cy="304.5" r="2.8"/>
<circle cx="255.5" cy="318.5" r="2.8"/>
<circle cx="255.5" cy="329.5" r="2.8"/>
<circle cx="255.5" cy="383.5" r="2.8"/>
<circle cx="256.5" cy="266.5" r="2.8"/>
<circle cx="256.5" cy="274.5" r="2.8"/>
<circle cx="256.5" cy="286.5" r="2.8"/>
<circle cx="256.5" cy="311.5" r="2.8"/>
<circle cx="256.5" cy="346.5" r="2.8"/>
<circle cx="257.5" cy="294.5" r="2.8"/>
<circle cx="258.5" cy="254.5" r="2.8"/>
<circle cx="258.5" cy="284.5" r="2.8"/>
<circle cx="258.5" cy="306.5" r="2.8"/>
<circle cx="258.5" cy="319.5" r="2.8"/>
<circle cx="258.5" cy="321.5" r="2.8"/>
<circle cx="259.5" cy="254.5" r="2.8"/>
<circle cx="259.5" cy="274.5" r="2.8"/>
<circle cx="259.5" cy="298.5" r="2.8"/>
<circle cx="259.5" cy="314.5" r="2.8"/>
<circle cx="259.5" cy="315.5" r="2.8"/>
<circle cx="259.5" cy="320.5" r="2.8"/>
<circle cx="259.5" cy="326.5" r="2.8"/>
<circle cx="260.5" cy="282.5" r="2.8"/>
<circle cx="260.5" cy="293.5" r="2.8"/>
<circle cx="260.5" cy="299.5" r="2.8"/>
<circle cx="260.5" cy="304.5" r="2.8"/>
<circle cx="260.5" cy="309.5" r="2.8"/>
<circle cx="260.5" cy="311.5" r="2.8"/>
<circle cx="261.5" cy="259.5" r="2.8"/>
<circle cx="261.5" cy="265.5" r="2.8"/>
<circle cx="261.5" cy="268.5" r="2.8"/>
<circle cx="261.5" cy="315.5" r="2.8"/>
<circle cx="261.5" cy="316.5" r="2.8"/>
<circle cx="262.5" cy="264.5" r="2.8"/>
<circle cx="262.5" cy="269.5" r="2.8"/>
<circle cx="262.5" cy="294.5" r="2.8"/>
<circle cx="262.5" cy="308.5" r="2.8"/>
<circle cx="262.5" cy="323.5" r="2.8"/>
<circle cx="263.5" cy="263.5" r="2.8"/>
<circle cx="263.5" cy="265.5" r="2.8"/>
<circle cx="263.5" cy="277.5" r="2.8"/>
<circle cx="263.5" cy="295.5" r="2.8"/>
<circle cx="263.5" cy="300.5" r="2.8"/>
<circle cx="263.5" cy="310.5" r="2.8"/>
<circle cx="264.5" cy="247.5" r="2.8"/>
<circle cx="264.5" cy="260.5" r="2.8"/>
<circle cx="264.5" cy="261.5" r="2.8"/>
<circle cx="264.5" cy="271.5" r="2.8"/>
<circle cx="264.5" cy="294.5" r="2.8"/>
<circle cx="264.5" cy="312.5" r="2.8"/>
<circle cx="264.5" cy="315.5" r="2.8"/>
<circle cx="265.5" cy="237.5" r="2.8"/>
<circle cx="265.5" cy="263.5" r="2.8"/>
<circle cx="265.5" cy="266.5" r="2.8"/>
<circle cx="265.5" cy="272.5" r="2.8"/>
<circle cx="265.5" cy="309.5" r="2.8"/>
<circle cx="266.5" cy="191.5" r="2.8"/>
<circle cx="266.5" cy="219.5" r="2.8"/>
<circle cx="266.5" cy="253.5" r="2.8"/>
<circle cx="266.5" cy="258.5" r="2.8"/>
<circle cx="266.5" cy="273.5" r="2.8"/>
<circle cx="267.5" cy="251.5" r="2.8"/>
<circle cx="267.5" cy="265.5" r="2.8"/>
<circle cx="267.5" cy="276.5" r="2.8"/>
<circle cx="267.5" cy="284.5" r="2.8"/>
<circle cx="267.5" cy="359.5" r="2.8"/>
<circle cx="268.5" cy="244.5" r="2.8"/>
<circle cx="269.5" cy="252.5" r="2.8"/>
<circle cx="269.5" cy="269.5" r="2.8"/>
<circle cx="269.5" cy="302.5" r="2.8"/>
<circle cx="269.5" cy="307.5" r="2.8"/>
<circle cx="269.5" cy="316.5" r="2.8"/>
<circle cx="270.5" cy="293.5" r="2.8"/>
<circle cx="270.5" cy="307.5" r="2.8"/>
<circle cx="271.5" cy="274.5" r="2.8"/>
<circle cx="271.5" cy="297.5" r="2.8"/>
<circle cx="271.5" cy="299.5" r="2.8"/>
<circle cx="272.5" cy="288.5" r="2.8"/>
<circle cx="272.5" cy="299.5" r="2.8"/>
<circle cx="273.5" cy="304.5" r="2.8"/>
<circle cx="273.5" cy="306.5" r="2.8"/>
<circle cx="273.5" cy="331.5" r="2.8"/>
<circle cx="274.5" cy="251.5" r="2.8"/>
<circle cx="274.5" cy="299.5" r="2.8"/>
<circle cx="274.5" cy="309.5" r="2.8"/>
<circle cx="274.5" cy="311.5" r="2.8"/>
<circle cx="274.5" cy="322.5" r="2.8"/>
<circle cx="275.5" cy="233.5" r="2.8"/>
<circle cx="275.5" cy="276.5" r="2.8"/>
<circle cx="275.5" cy="300.5" r="2.8"/>
<circle cx="275.5" cy="308.5" r="2.8"/>
<circle cx="275.5" cy="339.5" r="2.8"/>
<circle cx="275.5" cy="362.5" r="2.8"/>
<circle cx="275.5" cy="363.5" r="2.8"/>
<circle cx="275.5" cy="376.5" r="2.8"/>
<circle cx="276.5" cy="279.5" r="2.8"/>
<circle cx="276.5" cy="297.5" r="2.8"/>
<circle cx="276.5" cy="346.5" r="2.8"/>
<circle cx="276.5" cy="357.5" r="2.8"/>
<circle cx="277.5" cy="281.5" r="2.8"/>
<circle cx="277.5" cy="297.5" r="2.8"/>
<circle cx="277.5" cy="299.5" r="2.8"/>
<circle cx="278.5" cy="255.5" r="2.8"/>
<circle cx="278.5" cy="264.5" r="2.8"/>
<circle cx="278.5" cy="283.5" r="2.8"/>
<circle cx="278.5" cy="296.5" r="2.8"/>
<circle cx="278.5" cy="299.5" r="2.8"/>
<circle cx="278.5" cy="323.5" r="2.8"/>
<circle cx="279.5" cy="284.5" r="2.8"/>
<circle cx="279.5" cy="288.5" r="2.8"/>
<circle cx="279.5" cy="309.5" r="2.8"/>
<circle cx="279.5" cy="334.5" r="2.8"/>
<circle cx="279.5" cy="349.5" r="2.8"/>
<circle cx="280.5" cy="246.5" r="2.8"/>
<circle cx="280.5" cy="247.5" r="2.8"/>
<circle cx="280.5" cy="307.5" r="2.8"/>
<circle cx="280.5" cy="355.5" r="2.8"/>
<circle cx="281.5" cy="283.5" r="2.8"/>
<circle cx="281.5" cy="293.5" r="2.8"/>
<circle cx="281.5" cy="304.5" r="2.8"/>
<circle cx="281.5" cy="321.5" r="2.8"/>
<circle cx="281.5" cy="351.5" r="2.8"/>
<circle cx="281.5" cy="354.5" r="2.8"/>
<circle cx="282.5" cy="262.5" r="2.8"/>
<circle cx="282.5" cy="356.5" r="2.8"/>
<circle cx="283.5" cy="331.5" r="2.8"/>
<circle cx="283.5" cy="335.5" r="2.8"/>
<circle cx="284.5" cy="282.5" r="2.8"/>
<circle cx="284.5" cy="307.5" r="2.8"/>
<circle cx="284.5" cy="314.5" r="2.8"/>
<circle cx="284.5" cy="342.5" r="2.8"/>
<circle cx="285.5" cy="267.5" r="2.8"/>
<circle cx="286.5" cy="268.5" r="2.8"/>
<circle cx="286.5" cy="304.5" r="2.8"/>
<circle cx="286.5" cy="328.5" r="2.8"/>
<circle cx="286.5" cy="360.5" r="2.8"/>
<circle cx="286.5" cy="367.5" r="2.8"/>
<circle cx="286.5" cy="376.5" r="2.8"/>
<circle cx="287.5" cy="247.5" r="2.8"/>
<circle cx="287.5" cy="267.5" r="2.8"/>
<circle cx="287.5" cy="268.5" r="2.8"/>
<circle cx="287.5" cy="271.5" r="2.8"/>
<circle cx="287.5" cy="287.5" r="2.8"/>
<circle cx="287.5" cy="292.5" r="2.8"/>
<circle cx="287.5" cy="326.5" r="2.8"/>
<circle cx="288.5" cy="271.5" r="2.8"/>
<circle cx="288.5" cy="294.5" r="2.8"/>
<circle cx="288.5" cy="327.5" r="2.8"/>
<circle cx="288.5" cy="329.5" r="2.8"/>
<circle cx="289.5" cy="290.5" r="2.8"/>
<circle cx="289.5" cy="306.5" r="2.8"/>
<circle cx="289.5" cy="315.5" r="2.8"/>
<circle cx="289.5" cy="341.5" r="2.8"/>
<circle cx="290.5" cy="265.5" r="2.8"/>
<circle cx="290.5" cy="282.5" r="2.8"/>
<circle cx="290.5" cy="297.5" r="2.8"/>
<circle cx="291.5" cy="264.5" r="2.8"/>
<circle cx="291.5" cy="269.5" r="2.8"/>
<circle cx="291.5" cy="281.5" r="2.8"/>
<circle cx="292.5" cy="275.5" r="2.8"/>
<circle cx="292.5" cy="281.5" r="2.8"/>
<circle cx="292.5" cy="326.5" r="2.8"/>
<circle cx="293.5" cy="283.5" r="2.8"/>
<circle cx="293.5" cy="289.5" r="2.8"/>
<circle cx="293.5" cy="326.5" r="2.8"/>
<circle cx="293.5" cy="390.5" r="2.8"/>
<circle cx="294.5" cy="288.5" r="2.8"/>
<circle cx="294.5" cy="320.5" r="2.8"/>
<circle cx="294.5" cy="380.5" r="2.8"/>
<circle cx="295.5" cy="286.5" r="2.8"/>
<circle cx="295.5" cy="288.5" r="2.8"/>
<circle cx="295.5" cy="290.5" r="2.8"/>
<circle cx="295.5" cy="307.5" r="2.8"/>
<circle cx="295.5" cy="313.5" r="2.8"/>
<circle cx="295.5" cy="351.5" r="2.8"/>
<circle cx="296.5" cy="221.5" r="2.8"/>
<circle cx="296.5" cy="281.5" r="2.8"/>
<circle cx="296.5" cy="291.5" r="2.8"/>
<circle cx="296.5" cy="336.5" r="2.8"/>
<circle cx="296.5" cy="337.5" r="2.8"/>
<circle cx="296.5" cy="343.5" r="2.8"/>
<circle cx="297.5" cy="281.5" r="2.8"/>
<circle cx="297.5" cy="323.5" r="2.8"/>
<circle cx="297.5" cy="339.5" r="2.8"/>
<circle cx="298.5" cy="286.5" r="2.8"/>
<circle cx="298.5" cy="290.5" r="2.8"/>
<circle cx="298.5" cy="294.5" r="2.8"/>
<circle cx="298.5" cy="327.5" r="2.8"/>
<circle cx="298.5" cy="338.5" r="2.8"/>
<circle cx="298.5" cy="352.5" r="2.8"/>
<circle cx="299.5" cy="297.5" r="2.8"/>
<circle cx="299.5" cy="337.5" r="2.8"/>
<circle cx="299.5" cy="375.5" r="2.8"/>
<circle cx="300.5" cy="302.5" r="2.8"/>
<circle cx="300.5" cy="307.5" r="2.8"/>
<circle cx="300.5" cy="324.5" r="2.8"/>
<circle cx="300.5" cy="343.5" r="2.8"/>
<circle cx="300.5" cy="369.5" r="2.8"/>
<circle cx="301.5" cy="279.5" r="2.8"/>
<circle cx="301.5" cy="317.5" r="2.8"/>
<circle cx="301.5" cy="356.5" r="2.8"/>
<circle cx="302.5" cy="206.5" r="2.8"/>
<circle cx="302.5" cy="254.5" r="2.8"/>
<circle cx="302.5" cy="292.5" r="2.8"/>
<circle cx="303.5" cy="251.5" r="2.8"/>
<circle cx="303.5" cy="269.5" r="2.8"/>
<circle cx="303.5" cy="296.5" r="2.8"/>
<circle cx="303.5" cy="300.5" r="2.8"/>
<circle cx="304.5" cy="269.5" r="2.8"/>
<circle cx="304.5" cy="276.5" r="2.8"/>
<circle cx="304.5" cy="281.5" r="2.8"/>
<circle cx="305.5" cy="244.5" r="2.8"/>
<circle cx="305.5" cy="247.5" r="2.8"/>
<circle cx="305.5" cy="270.5" r="2.8"/>
<circle cx="305.5" cy="272.5" r="2.8"/>
<circle cx="305.5" cy="299.5" r="2.8"/>
<circle cx="305.5" cy="303.5" r="2.8"/>
<circle cx="305.5" cy="307.5" r="2.8"/>
<circle cx="306.5" cy="267.5" r="2.8"/>
<circle cx="306.5" cy="272.5" r="2.8"/>
<circle cx="306.5" cy="316.5" r="2.8"/>
<circle cx="307.5" cy="261.5" r="2.8"/>
<circle cx="308.5" cy="272.5" r="2.8"/>
<circle cx="308.5" cy="282.5" r="2.8"/>
<circle cx="308.5" cy="288.5" r="2.8"/>
<circle cx="308.5" cy="289.5" r="2.8"/>
<circle cx="309.5" cy="268.5" r="2.8"/>
<circle cx="309.5" cy="276.5" r="2.8"/>
<circle cx="310.5" cy="289.5" r="2.8"/>
<circle cx="311.5" cy="328.5" r="2.8"/>
<circle cx="311.5" cy="349.5" r="2.8"/>
<circle cx="315.5" cy="268.5" r="2.8"/>
<circle cx="315.5" cy="279.5" r="2.8"/>
<circle cx="316.5" cy="206.5" r="2.8"/>
<circle cx="316.5" cy="258.5" r="2.8"/>
<circle cx="316.5" cy="263.5" r="2.8"/>
<circle cx="316.5" cy="296.5" r="2.8"/>
<circle cx="317.5" cy="226.5" r="2.8"/>
<circle cx="317.5" cy="240.5" r="2.8"/>
<circle cx="317.5" cy="243.5" r="2.8"/>
<circle cx="317.5" cy="247.5" r="2.8"/>
<circle cx="318.5" cy="207.5" r="2.8"/>
<circle cx="318.5" cy="256.5" r="2.8"/>
<circle cx="318.5" cy="273.5" r="2.8"/>
<circle cx="318.5" cy="317.5" r="2.8"/>
<circle cx="318.5" cy="338.5" r="2.8"/>
<circle cx="319.5" cy="294.5" r="2.8"/>
<circle cx="319.5" cy="312.5" r="2.8"/>
<circle cx="319.5" cy="368.5" r="2.8"/>
<circle cx="319.5" cy="369.5" r="2.8"/>
<circle cx="320.5" cy="286.5" r="2.8"/>
<circle cx="320.5" cy="307.5" r="2.8"/>
<circle cx="320.5" cy="319.5" r="2.8"/>
<circle cx="320.5" cy="320.5" r="2.8"/>
<circle cx="320.5" cy="326.5" r="2.8"/>
<circle cx="320.5" cy="334.5" r="2.8"/>
<circle cx="320.5" cy="339.5" r="2.8"/>
<circle cx="321.5" cy="305.5" r="2.8"/>
<circle cx="321.5" cy="315.5" r="2.8"/>
<circle cx="321.5" cy="326.5" r="2.8"/>
<circle cx="321.5" cy="341.5" r="2.8"/>
<circle cx="321.5" cy="348.5" r="2.8"/>
<circle cx="322.5" cy="329.5" r="2.8"/>
<circle cx="323.5" cy="237.5" r="2.8"/>
<circle cx="323.5" cy="278.5" r="2.8"/>
<circle cx="323.5" cy="329.5" r="2.8"/>
<circle cx="323.5" cy="330.5" r="2.8"/>
<circle cx="323.5" cy="331.5" r="2.8"/>
<circle cx="323.5" cy="332.5" r="2.8"/>
<circle cx="323.5" cy="333.5" r="2.8"/>
<circle cx="324.5" cy="275.5" r="2.8"/>
<circle cx="324.5" cy="277.5" r="2.8"/>
<circle cx="324.5" cy="285.5" r="2.8"/>
<circle cx="324.5" cy="353.5" r="2.8"/>
<circle cx="325.5" cy="275.5" r="2.8"/>
<circle cx="325.5" cy="302.5" r="2.8"/>
<circle cx="325.5" cy="307.5" r="2.8"/>
<circle cx="325.5" cy="357.5" r="2.8"/>
<circle cx="325.5" cy="391.5" r="2.8"/>
<circle cx="326.5" cy="276.5" r="2.8"/>
<circle cx="326.5" cy="277.5" r="2.8"/>
<circle cx="326.5" cy="286.5" r="2.8"/>
<circle cx="326.5" cy="326.5" r="2.8"/>
<circle cx="327.5" cy="273.5" r="2.8"/>
<circle cx="327.5" cy="274.5" r="2.8"/>
<circle cx="327.5" cy="291.5" r="2.8"/>
<circle cx="327.5" cy="326.5" r="2.8"/>
<circle cx="327.5" cy="331.5" r="2.8"/>
<circle cx="327.5" cy="335.5" r="2.8"/>
<circle cx="328.5" cy="272.5" r="2.8"/>
<circle cx="328.5" cy="292.5" r="2.8"/>
<circle cx="328.5" cy="293.5" r="2.8"/>
<circle cx="328.5" cy="298.5" r="2.8"/>
<circle cx="328.5" cy="314.5" r="2.8"/>
<circle cx="329.5" cy="143.5" r="2.8"/>
<circle cx="329.5" cy="181.5" r="2.8"/>
<circle cx="329.5" cy="206.5" r="2.8"/>
<circle cx="329.5" cy="286.5" r="2.8"/>
<circle cx="329.5" cy="296.5" r="2.8"/>
<circle cx="329.5" cy="306.5" r="2.8"/>
<circle cx="330.5" cy="198.5" r="2.8"/>
<circle cx="330.5" cy="249.5" r="2.8"/>
<circle cx="330.5" cy="279.5" r="2.8"/>
<circle cx="330.5" cy="285.5" r="2.8"/>
<circle cx="330.5" cy="294.5" r="2.8"/>
<circle cx="330.5" cy="302.5" r="2.8"/>
<circle cx="330.5" cy="308.5" r="2.8"/>
<circle cx="331.5" cy="257.5" r="2.8"/>
<circle cx="331.5" cy="292.5" r="2.8"/>
<circle cx="331.5" cy="297.5" r="2.8"/>
<circle cx="331.5" cy="329.5" r="2.8"/>
<circle cx="332.5" cy="282.5" r="2.8"/>
<circle cx="333.5" cy="252.5" r="2.8"/>
<circle cx="333.5" cy="264.5" r="2.8"/>
<circle cx="333.5" cy="288.5" r="2.8"/>
<circle cx="333.5" cy="293.5" r="2.8"/>
<circle cx="333.5" cy="298.5" r="2.8"/>
<circle cx="334.5" cy="282.5" r="2.8"/>
<circle cx="334.5" cy="283.5" r="2.8"/>
<circle cx="334.5" cy="292.5" r="2.8"/>
<circle cx="334.5" cy="294.5" r="2.8"/>
<circle cx="334.5" cy="327.5" r="2.8"/>
<circle cx="334.5" cy="340.5" r="2.8"/>
<circle cx="334.5" cy="368.5" r="2.8"/>
<circle cx="335.5" cy="274.5" r="2.8"/>
<circle cx="335.5" cy="301.5" r="2.8"/>
<circle cx="335.5" cy="309.5" r="2.8"/>
<circle cx="336.5" cy="239.5" r="2.8"/>
<circle cx="336.5" cy="256.5" r="2.8"/>
<circle cx="336.5" cy="275.5" r="2.8"/>
<circle cx="336.5" cy="291.5" r="2.8"/>
<circle cx="336.5" cy="302.5" r="2.8"/>
<circle cx="337.5" cy="246.5" r="2.8"/>
<circle cx="337.5" cy="276.5" r="2.8"/>
<circle cx="337.5" cy="281.5" r="2.8"/>
<circle cx="337.5" cy="291.5" r="2.8"/>
<circle cx="337.5" cy="292.5" r="2.8"/>
<circle cx="337.5" cy="297.5" r="2.8"/>
<circle cx="337.5" cy="305.5" r="2.8"/>
<circle cx="337.5" cy="316.5" r="2.8"/>
<circle cx="338.5" cy="239.5" r="2.8"/>
<circle cx="338.5" cy="264.5" r="2.8"/>
<circle cx="338.5" cy="288.5" r="2.8"/>
<circle cx="338.5" cy="289.5" r="2.8"/>
<circle cx="338.5" cy="316.5" r="2.8"/>
<circle cx="339.5" cy="248.5" r="2.8"/>
<circle cx="339.5" cy="266.5" r="2.8"/>
<circle cx="339.5" cy="273.5" r="2.8"/>
<circle cx="339.5" cy="277.5" r="2.8"/>
<circle cx="339.5" cy="292.5" r="2.8"/>
<circle cx="339.5" cy="304.5" r="2.8"/>
<circle cx="339.5" cy="307.5" r="2.8"/>
<circle cx="339.5" cy="312.5" r="2.8"/>
<circle cx="340.5" cy="276.5" r="2.8"/>
<circle cx="340.5" cy="291.5" r="2.8"/>
<circle cx="341.5" cy="210.5" r="2.8"/>
<circle cx="341.5" cy="263.5" r="2.8"/>
<circle cx="341.5" cy="266.5" r="2.8"/>
<circle cx="341.5" cy="271.5" r="2.8"/>
<circle cx="341.5" cy="299.5" r="2.8"/>
<circle cx="341.5" cy="300.5" r="2.8"/>
<circle cx="342.5" cy="206.5" r="2.8"/>
<circle cx="342.5" cy="268.5" r="2.8"/>
<circle cx="342.5" cy="291.5" r="2.8"/>
<circle cx="342.5" cy="333.5" r="2.8"/>
<circle cx="343.5" cy="262.5" r="2.8"/>
<circle cx="343.5" cy="309.5" r="2.8"/>
<circle cx="344.5" cy="216.5" r="2.8"/>
<circle cx="344.5" cy="230.5" r="2.8"/>
<circle cx="344.5" cy="247.5" r="2.8"/>
<circle cx="344.5" cy="266.5" r="2.8"/>
<circle cx="344.5" cy="282.5" r="2.8"/>
<circle cx="344.5" cy="303.5" r="2.8"/>
<circle cx="344.5" cy="339.5" r="2.8"/>
<circle cx="344.5" cy="351.5" r="2.8"/>
<circle cx="345.5" cy="244.5" r="2.8"/>
<circle cx="345.5" cy="254.5" r="2.8"/>
<circle cx="345.5" cy="265.5" r="2.8"/>
<circle cx="345.5" cy="274.5" r="2.8"/>
<circle cx="346.5" cy="248.5" r="2.8"/>
<circle cx="346.5" cy="299.5" r="2.8"/>
<circle cx="346.5" cy="304.5" r="2.8"/>
<circle cx="346.5" cy="306.5" r="2.8"/>
<circle cx="346.5" cy="405.5" r="2.8"/>
<circle cx="347.5" cy="280.5" r="2.8"/>
<circle cx="347.5" cy="321.5" r="2.8"/>
<circle cx="347.5" cy="322.5" r="2.8"/>
<circle cx="348.5" cy="257.5" r="2.8"/>
<circle cx="348.5" cy="280.5" r="2.8"/>
<circle cx="348.5" cy="281.5" r="2.8"/>
<circle cx="348.5" cy="315.5" r="2.8"/>
<circle cx="349.5" cy="249.5" r="2.8"/>
<circle cx="349.5" cy="257.5" r="2.8"/>
<circle cx="349.5" cy="282.5" r="2.8"/>
<circle cx="349.5" cy="343.5" r="2.8"/>
<circle cx="350.5" cy="237.5" r="2.8"/>
<circle cx="350.5" cy="249.5" r="2.8"/>
<circle cx="350.5" cy="258.5" r="2.8"/>
<circle cx="350.5" cy="264.5" r="2.8"/>
<circle cx="351.5" cy="240.5" r="2.8"/>
<circle cx="351.5" cy="250.5" r="2.8"/>
<circle cx="351.5" cy="259.5" r="2.8"/>
<circle cx="351.5" cy="264.5" r="2.8"/>
<circle cx="351.5" cy="272.5" r="2.8"/>
<circle cx="351.5" cy="284.5" r="2.8"/>
<circle cx="351.5" cy="333.5" r="2.8"/>
<circle cx="351.5" cy="362.5" r="2.8"/>
<circle cx="352.5" cy="263.5" r="2.8"/>
<circle cx="352.5" cy="264.5" r="2.8"/>
<circle cx="353.5" cy="254.5" r="2.8"/>
<circle cx="353.5" cy="268.5" r="2.8"/>
<circle cx="354.5" cy="247.5" r="2.8"/>
<circle cx="354.5" cy="253.5" r="2.8"/>
<circle cx="354.5" cy="254.5" r="2.8"/>
<circle cx="354.5" cy="255.5" r="2.8"/>
<circle cx="354.5" cy="266.5" r="2.8"/>
<circle cx="354.5" cy="267.5" r="2.8"/>
<circle cx="354.5" cy="289.5" r="2.8"/>
<circle cx="354.5" cy="297.5" r="2.8"/>
<circle cx="354.5" cy="307.5" r="2.8"/>
<circle cx="354.5" cy="314.5" r="2.8"/>
<circle cx="355.5" cy="244.5" r="2.8"/>
<circle cx="355.5" cy="248.5" r="2.8"/>
<circle cx="355.5" cy="259.5" r="2.8"/>
<circle cx="355.5" cy="261.5" r="2.8"/>
<circle cx="355.5" cy="262.5" r="2.8"/>
<circle cx="355.5" cy="267.5" r="2.8"/>
<circle cx="355.5" cy="268.5" r="2.8"/>
<circle cx="355.5" cy="318.5" r="2.8"/>
<circle cx="356.5" cy="260.5" r="2.8"/>
<circle cx="356.5" cy="272.5" r="2.8"/>
<circle cx="356.5" cy="284.5" r="2.8"/>
<circle cx="356.5" cy="323.5" r="2.8"/>
<circle cx="357.5" cy="257.5" r="2.8"/>
<circle cx="357.5" cy="284.5" r="2.8"/>
<circle cx="357.5" cy="292.5" r="2.8"/>
<circle cx="357.5" cy="304.5" r="2.8"/>
<circle cx="358.5" cy="256.5" r="2.8"/>
<circle cx="358.5" cy="260.5" r="2.8"/>
<circle cx="358.5" cy="270.5" r="2.8"/>
<circle cx="358.5" cy="274.5" r="2.8"/>
<circle cx="358.5" cy="281.5" r="2.8"/>
<circle cx="358.5" cy="285.5" r="2.8"/>
<circle cx="358.5" cy="314.5" r="2.8"/>
<circle cx="358.5" cy="328.5" r="2.8"/>
<circle cx="358.5" cy="346.5" r="2.8"/>
<circle cx="359.5" cy="247.5" r="2.8"/>
<circle cx="359.5" cy="266.5" r="2.8"/>
<circle cx="359.5" cy="271.5" r="2.8"/>
<circle cx="360.5" cy="260.5" r="2.8"/>
<circle cx="360.5" cy="270.5" r="2.8"/>
<circle cx="360.5" cy="274.5" r="2.8"/>
<circle cx="360.5" cy="276.5" r="2.8"/>
<circle cx="360.5" cy="348.5" r="2.8"/>
<circle cx="361.5" cy="259.5" r="2.8"/>
<circle cx="361.5" cy="269.5" r="2.8"/>
<circle cx="361.5" cy="307.5" r="2.8"/>
<circle cx="361.5" cy="337.5" r="2.8"/>
<circle cx="362.5" cy="244.5" r="2.8"/>
<circle cx="362.5" cy="281.5" r="2.8"/>
<circle cx="362.5" cy="286.5" r="2.8"/>
<circle cx="362.5" cy="310.5" r="2.8"/>
<circle cx="363.5" cy="241.5" r="2.8"/>
<circle cx="364.5" cy="189.5" r="2.8"/>
<circle cx="364.5" cy="248.5" r="2.8"/>
<circle cx="364.5" cy="276.5" r="2.8"/>
<circle cx="364.5" cy="306.5" r="2.8"/>
<circle cx="364.5" cy="307.5" r="2.8"/>
<circle cx="364.5" cy="382.5" r="2.8"/>
<circle cx="365.5" cy="145.5" r="2.8"/>
<circle cx="365.5" cy="159.5" r="2.8"/>
<circle cx="365.5" cy="193.5" r="2.8"/>
<circle cx="365.5" cy="233.5" r="2.8"/>
<circle cx="366.5" cy="127.5" r="2.8"/>
<circle cx="366.5" cy="153.5" r="2.8"/>
<circle cx="366.5" cy="167.5" r="2.8"/>
<circle cx="367.5" cy="183.5" r="2.8"/>
<circle cx="367.5" cy="244.5" r="2.8"/>
<circle cx="367.5" cy="245.5" r="2.8"/>
<circle cx="367.5" cy="253.5" r="2.8"/>
<circle cx="367.5" cy="267.5" r="2.8"/>
<circle cx="367.5" cy="269.5" r="2.8"/>
<circle cx="368.5" cy="250.5" r="2.8"/>
<circle cx="368.5" cy="262.5" r="2.8"/>
<circle cx="368.5" cy="264.5" r="2.8"/>
<circle cx="368.5" cy="271.5" r="2.8"/>
<circle cx="368.5" cy="289.5" r="2.8"/>
<circle cx="369.5" cy="208.5" r="2.8"/>
<circle cx="369.5" cy="244.5" r="2.8"/>
<circle cx="369.5" cy="262.5" r="2.8"/>
<circle cx="370.5" cy="296.5" r="2.8"/>
<circle cx="371.5" cy="202.5" r="2.8"/>
<circle cx="371.5" cy="234.5" r="2.8"/>
<circle cx="371.5" cy="243.5" r="2.8"/>
<circle cx="371.5" cy="281.5" r="2.8"/>
<circle cx="371.5" cy="295.5" r="2.8"/>
<circle cx="371.5" cy="368.5" r="2.8"/>
<circle cx="372.5" cy="199.5" r="2.8"/>
<circle cx="372.5" cy="239.5" r="2.8"/>
<circle cx="372.5" cy="267.5" r="2.8"/>
<circle cx="372.5" cy="292.5" r="2.8"/>
<circle cx="373.5" cy="226.5" r="2.8"/>
<circle cx="373.5" cy="264.5" r="2.8"/>
<circle cx="373.5" cy="272.5" r="2.8"/>
<circle cx="373.5" cy="302.5" r="2.8"/>
<circle cx="374.5" cy="227.5" r="2.8"/>
<circle cx="374.5" cy="277.5" r="2.8"/>
<circle cx="374.5" cy="289.5" r="2.8"/>
<circle cx="374.5" cy="299.5" r="2.8"/>
<circle cx="374.5" cy="324.5" r="2.8"/>
<circle cx="375.5" cy="227.5" r="2.8"/>
<circle cx="375.5" cy="228.5" r="2.8"/>
<circle cx="375.5" cy="231.5" r="2.8"/>
<circle cx="375.5" cy="269.5" r="2.8"/>
<circle cx="375.5" cy="287.5" r="2.8"/>
<circle cx="375.5" cy="299.5" r="2.8"/>
<circle cx="376.5" cy="190.5" r="2.8"/>
<circle cx="376.5" cy="191.5" r="2.8"/>
<circle cx="376.5" cy="205.5" r="2.8"/>
<circle cx="376.5" cy="218.5" r="2.8"/>
<circle cx="376.5" cy="253.5" r="2.8"/>
<circle cx="377.5" cy="176.5" r="2.8"/>
<circle cx="377.5" cy="177.5" r="2.8"/>
<circle cx="377.5" cy="230.5" r="2.8"/>
<circle cx="377.5" cy="231.5" r="2.8"/>
<circle cx="377.5" cy="271.5" r="2.8"/>
<circle cx="378.5" cy="185.5" r="2.8"/>
<circle cx="378.5" cy="195.5" r="2.8"/>
<circle cx="378.5" cy="210.5" r="2.8"/>
<circle cx="378.5" cy="211.5" r="2.8"/>
<circle cx="378.5" cy="244.5" r="2.8"/>
<circle cx="378.5" cy="255.5" r="2.8"/>
<circle cx="379.5" cy="212.5" r="2.8"/>
<circle cx="379.5" cy="217.5" r="2.8"/>
<circle cx="379.5" cy="247.5" r="2.8"/>
<circle cx="380.5" cy="211.5" r="2.8"/>
<circle cx="380.5" cy="222.5" r="2.8"/>
<circle cx="381.5" cy="206.5" r="2.8"/>
<circle cx="381.5" cy="211.5" r="2.8"/>
<circle cx="381.5" cy="212.5" r="2.8"/>
<circle cx="381.5" cy="226.5" r="2.8"/>
<circle cx="381.5" cy="230.5" r="2.8"/>
<circle cx="381.5" cy="235.5" r="2.8"/>
<circle cx="381.5" cy="243.5" r="2.8"/>
<circle cx="381.5" cy="257.5" r="2.8"/>
<circle cx="382.5" cy="236.5" r="2.8"/>
<circle cx="382.5" cy="243.5" r="2.8"/>
<circle cx="382.5" cy="260.5" r="2.8"/>
<circle cx="383.5" cy="217.5" r="2.8"/>
<circle cx="383.5" cy="222.5" r="2.8"/>
<circle cx="383.5" cy="256.5" r="2.8"/>
<circle cx="384.5" cy="194.5" r="2.8"/>
<circle cx="384.5" cy="212.5" r="2.8"/>
<circle cx="384.5" cy="228.5" r="2.8"/>
<circle cx="384.5" cy="232.5" r="2.8"/>
<circle cx="384.5" cy="236.5" r="2.8"/>
<circle cx="384.5" cy="241.5" r="2.8"/>
<circle cx="384.5" cy="248.5" r="2.8"/>
<circle cx="385.5" cy="233.5" r="2.8"/>
<circle cx="385.5" cy="272.5" r="2.8"/>
<circle cx="385.5" cy="325.5" r="2.8"/>
<circle cx="386.5" cy="196.5" r="2.8"/>
<circle cx="386.5" cy="219.5" r="2.8"/>
<circle cx="386.5" cy="231.5" r="2.8"/>
<circle cx="386.5" cy="236.5" r="2.8"/>
<circle cx="387.5" cy="205.5" r="2.8"/>
<circle cx="387.5" cy="229.5" r="2.8"/>
<circle cx="387.5" cy="231.5" r="2.8"/>
<circle cx="387.5" cy="238.5" r="2.8"/>
<circle cx="387.5" cy="240.5" r="2.8"/>
<circle cx="388.5" cy="197.5" r="2.8"/>
<circle cx="388.5" cy="244.5" r="2.8"/>
<circle cx="388.5" cy="271.5" r="2.8"/>
<circle cx="388.5" cy="287.5" r="2.8"/>
<circle cx="388.5" cy="295.5" r="2.8"/>
<circle cx="389.5" cy="203.5" r="2.8"/>
<circle cx="389.5" cy="236.5" r="2.8"/>
<circle cx="389.5" cy="247.5" r="2.8"/>
<circle cx="389.5" cy="251.5" r="2.8"/>
<circle cx="389.5" cy="254.5" r="2.8"/>
<circle cx="389.5" cy="256.5" r="2.8"/>
<circle cx="389.5" cy="262.5" r="2.8"/>
<circle cx="389.5" cy="267.5" r="2.8"/>
<circle cx="390.5" cy="198.5" r="2.8"/>
<circle cx="390.5" cy="201.5" r="2.8"/>
<circle cx="390.5" cy="202.5" r="2.8"/>
<circle cx="390.5" cy="256.5" r="2.8"/>
<circle cx="390.5" cy="291.5" r="2.8"/>
<circle cx="390.5" cy="314.5" r="2.8"/>
<circle cx="391.5" cy="212.5" r="2.8"/>
<circle cx="391.5" cy="219.5" r="2.8"/>
<circle cx="391.5" cy="257.5" r="2.8"/>
<circle cx="391.5" cy="258.5" r="2.8"/>
<circle cx="391.5" cy="272.5" r="2.8"/>
<circle cx="391.5" cy="291.5" r="2.8"/>
<circle cx="392.5" cy="197.5" r="2.8"/>
<circle cx="392.5" cy="208.5" r="2.8"/>
<circle cx="392.5" cy="223.5" r="2.8"/>
<circle cx="392.5" cy="241.5" r="2.8"/>
<circle cx="392.5" cy="258.5" r="2.8"/>
<circle cx="393.5" cy="227.5" r="2.8"/>
<circle cx="393.5" cy="253.5" r="2.8"/>
<circle cx="393.5" cy="271.5" r="2.8"/>
<circle cx="393.5" cy="274.5" r="2.8"/>
<circle cx="393.5" cy="299.5" r="2.8"/>
<circle cx="394.5" cy="245.5" r="2.8"/>
<circle cx="394.5" cy="247.5" r="2.8"/>
<circle cx="394.5" cy="252.5" r="2.8"/>
<circle cx="394.5" cy="258.5" r="2.8"/>
<circle cx="395.5" cy="277.5" r="2.8"/>
<circle cx="396.5" cy="267.5" r="2.8"/>
<circle cx="396.5" cy="288.5" r="2.8"/>
<circle cx="396.5" cy="298.5" r="2.8"/>
<circle cx="397.5" cy="255.5" r="2.8"/>
<circle cx="398.5" cy="261.5" r="2.8"/>
<circle cx="398.5" cy="280.5" r="2.8"/>
<circle cx="398.5" cy="308.5" r="2.8"/>
<circle cx="398.5" cy="330.5" r="2.8"/>
<circle cx="399.5" cy="250.5" r="2.8"/>
<circle cx="399.5" cy="284.5" r="2.8"/>
<circle cx="399.5" cy="296.5" r="2.8"/>
<circle cx="399.5" cy="311.5" r="2.8"/>
<circle cx="399.5" cy="314.5" r="2.8"/>
<circle cx="400.5" cy="264.5" r="2.8"/>
<circle cx="400.5" cy="290.5" r="2.8"/>
<circle cx="400.5" cy="308.5" r="2.8"/>
<circle cx="401.5" cy="224.5" r="2.8"/>
<circle cx="401.5" cy="251.5" r="2.8"/>
<circle cx="401.5" cy="286.5" r="2.8"/>
<circle cx="401.5" cy="288.5" r="2.8"/>
<circle cx="401.5" cy="292.5" r="2.8"/>
<circle cx="402.5" cy="218.5" r="2.8"/>
<circle cx="402.5" cy="274.5" r="2.8"/>
<circle cx="402.5" cy="285.5" r="2.8"/>
<circle cx="403.5" cy="207.5" r="2.8"/>
<circle cx="403.5" cy="231.5" r="2.8"/>
<circle cx="403.5" cy="303.5" r="2.8"/>
<circle cx="403.5" cy="306.5" r="2.8"/>
<circle cx="404.5" cy="216.5" r="2.8"/>
<circle cx="404.5" cy="234.5" r="2.8"/>
<circle cx="404.5" cy="261.5" r="2.8"/>
<circle cx="404.5" cy="266.5" r="2.8"/>
<circle cx="405.5" cy="147.5" r="2.8"/>
<circle cx="405.5" cy="255.5" r="2.8"/>
<circle cx="405.5" cy="279.5" r="2.8"/>
<circle cx="406.5" cy="214.5" r="2.8"/>
<circle cx="406.5" cy="239.5" r="2.8"/>
<circle cx="406.5" cy="262.5" r="2.8"/>
<circle cx="406.5" cy="279.5" r="2.8"/>
<circle cx="406.5" cy="281.5" r="2.8"/>
<circle cx="406.5" cy="283.5" r="2.8"/>
<circle cx="406.5" cy="301.5" r="2.8"/>
<circle cx="406.5" cy="302.5" r="2.8"/>
<circle cx="406.5" cy="303.5" r="2.8"/>
<circle cx="407.5" cy="231.5" r="2.8"/>
<circle cx="407.5" cy="251.5" r="2.8"/>
<circle cx="407.5" cy="298.5" r="2.8"/>
<circle cx="407.5" cy="299.5" r="2.8"/>
<circle cx="407.5" cy="300.5" r="2.8"/>
<circle cx="407.5" cy="313.5" r="2.8"/>
<circle cx="408.5" cy="235.5" r="2.8"/>
<circle cx="408.5" cy="261.5" r="2.8"/>
<circle cx="408.5" cy="327.5" r="2.8"/>
<circle cx="409.5" cy="256.5" r="2.8"/>
<circle cx="409.5" cy="295.5" r="2.8"/>
<circle cx="409.5" cy="302.5" r="2.8"/>
<circle cx="409.5" cy="326.5" r="2.8"/>
<circle cx="410.5" cy="232.5" r="2.8"/>
<circle cx="410.5" cy="238.5" r="2.8"/>
<circle cx="410.5" cy="255.5" r="2.8"/>
<circle cx="410.5" cy="271.5" r="2.8"/>
<circle cx="410.5" cy="300.5" r="2.8"/>
<circle cx="410.5" cy="304.5" r="2.8"/>
<circle cx="410.5" cy="322.5" r="2.8"/>
<circle cx="412.5" cy="279.5" r="2.8"/>
<circle cx="412.5" cy="301.5" r="2.8"/>
<circle cx="412.5" cy="317.5" r="2.8"/>
<circle cx="412.5" cy="328.5" r="2.8"/>
<circle cx="413.5" cy="201.5" r="2.8"/>
<circle cx="413.5" cy="202.5" r="2.8"/>
<circle cx="413.5" cy="229.5" r="2.8"/>
<circle cx="413.5" cy="235.5" r="2.8"/>
<circle cx="413.5" cy="253.5" r="2.8"/>
<circle cx="413.5" cy="258.5" r="2.8"/>
<circle cx="414.5" cy="220.5" r="2.8"/>
<circle cx="414.5" cy="229.5" r="2.8"/>
<circle cx="414.5" cy="231.5" r="2.8"/>
<circle cx="414.5" cy="238.5" r="2.8"/>
<circle cx="414.5" cy="251.5" r="2.8"/>
<circle cx="414.5" cy="252.5" r="2.8"/>
<circle cx="414.5" cy="275.5" r="2.8"/>
<circle cx="414.5" cy="279.5" r="2.8"/>
<circle cx="415.5" cy="196.5" r="2.8"/>
<circle cx="415.5" cy="197.5" r="2.8"/>
<circle cx="415.5" cy="222.5" r="2.8"/>
<circle cx="415.5" cy="228.5" r="2.8"/>
<circle cx="415.5" cy="229.5" r="2.8"/>
<circle cx="415.5" cy="231.5" r="2.8"/>
<circle cx="415.5" cy="284.5" r="2.8"/>
<circle cx="416.5" cy="224.5" r="2.8"/>
<circle cx="416.5" cy="241.5" r="2.8"/>
<circle cx="416.5" cy="254.5" r="2.8"/>
<circle cx="416.5" cy="279.5" r="2.8"/>
<circle cx="416.5" cy="286.5" r="2.8"/>
<circle cx="416.5" cy="300.5" r="2.8"/>
<circle cx="416.5" cy="307.5" r="2.8"/>
<circle cx="417.5" cy="224.5" r="2.8"/>
<circle cx="417.5" cy="231.5" r="2.8"/>
<circle cx="417.5" cy="256.5" r="2.8"/>
<circle cx="417.5" cy="274.5" r="2.8"/>
<circle cx="417.5" cy="288.5" r="2.8"/>
<circle cx="418.5" cy="211.5" r="2.8"/>
<circle cx="418.5" cy="227.5" r="2.8"/>
<circle cx="418.5" cy="230.5" r="2.8"/>
<circle cx="418.5" cy="233.5" r="2.8"/>
<circle cx="418.5" cy="254.5" r="2.8"/>
<circle cx="418.5" cy="256.5" r="2.8"/>
<circle cx="418.5" cy="278.5" r="2.8"/>
<circle cx="418.5" cy="288.5" r="2.8"/>
<circle cx="418.5" cy="300.5" r="2.8"/>
<circle cx="419.5" cy="207.5" r="2.8"/>
<circle cx="419.5" cy="224.5" r="2.8"/>
<circle cx="419.5" cy="226.5" r="2.8"/>
<circle cx="419.5" cy="227.5" r="2.8"/>
<circle cx="419.5" cy="230.5" r="2.8"/>
<circle cx="419.5" cy="238.5" r="2.8"/>
<circle cx="419.5" cy="274.5" r="2.8"/>
<circle cx="420.5" cy="107.5" r="2.8"/>
<circle cx="420.5" cy="228.5" r="2.8"/>
<circle cx="420.5" cy="230.5" r="2.8"/>
<circle cx="420.5" cy="234.5" r="2.8"/>
<circle cx="421.5" cy="171.5" r="2.8"/>
<circle cx="421.5" cy="195.5" r="2.8"/>
<circle cx="421.5" cy="222.5" r="2.8"/>
<circle cx="421.5" cy="228.5" r="2.8"/>
<circle cx="421.5" cy="238.5" r="2.8"/>
<circle cx="421.5" cy="244.5" r="2.8"/>
<circle cx="421.5" cy="272.5" r="2.8"/>
<circle cx="422.5" cy="221.5" r="2.8"/>
<circle cx="422.5" cy="231.5" r="2.8"/>
<circle cx="422.5" cy="246.5" r="2.8"/>
<circle cx="422.5" cy="248.5" r="2.8"/>
<circle cx="422.5" cy="270.5" r="2.8"/>
<circle cx="423.5" cy="205.5" r="2.8"/>
<circle cx="423.5" cy="261.5" r="2.8"/>
<circle cx="423.5" cy="262.5" r="2.8"/>
<circle cx="423.5" cy="273.5" r="2.8"/>
<circle cx="423.5" cy="351.5" r="2.8"/>
<circle cx="424.5" cy="216.5" r="2.8"/>
<circle cx="424.5" cy="217.5" r="2.8"/>
<circle cx="424.5" cy="220.5" r="2.8"/>
<circle cx="424.5" cy="270.5" r="2.8"/>
<circle cx="425.5" cy="216.5" r="2.8"/>
<circle cx="425.5" cy="217.5" r="2.8"/>
<circle cx="425.5" cy="218.5" r="2.8"/>
<circle cx="425.5" cy="230.5" r="2.8"/>
<circle cx="425.5" cy="257.5" r="2.8"/>
<circle cx="425.5" cy="324.5" r="2.8"/>
<circle cx="426.5" cy="290.5" r="2.8"/>
<circle cx="426.5" cy="295.5" r="2.8"/>
<circle cx="426.5" cy="306.5" r="2.8"/>
<circle cx="427.5" cy="248.5" r="2.8"/>
<circle cx="427.5" cy="254.5" r="2.8"/>
<circle cx="427.5" cy="268.5" r="2.8"/>
<circle cx="428.5" cy="191.5" r="2.8"/>
<circle cx="428.5" cy="215.5" r="2.8"/>
<circle cx="428.5" cy="222.5" r="2.8"/>
<circle cx="428.5" cy="298.5" r="2.8"/>
<circle cx="428.5" cy="302.5" r="2.8"/>
<circle cx="428.5" cy="304.5" r="2.8"/>
<circle cx="429.5" cy="170.5" r="2.8"/>
<circle cx="429.5" cy="175.5" r="2.8"/>
<circle cx="429.5" cy="176.5" r="2.8"/>
<circle cx="429.5" cy="214.5" r="2.8"/>
<circle cx="429.5" cy="304.5" r="2.8"/>
<circle cx="430.5" cy="201.5" r="2.8"/>
<circle cx="430.5" cy="219.5" r="2.8"/>
<circle cx="431.5" cy="168.5" r="2.8"/>
<circle cx="431.5" cy="180.5" r="2.8"/>
<circle cx="431.5" cy="181.5" r="2.8"/>
<circle cx="431.5" cy="187.5" r="2.8"/>
<circle cx="431.5" cy="195.5" r="2.8"/>
<circle cx="432.5" cy="171.5" r="2.8"/>
<circle cx="432.5" cy="241.5" r="2.8"/>
<circle cx="433.5" cy="125.5" r="2.8"/>
<circle cx="433.5" cy="173.5" r="2.8"/>
<circle cx="433.5" cy="209.5" r="2.8"/>
<circle cx="433.5" cy="210.5" r="2.8"/>
<circle cx="433.5" cy="253.5" r="2.8"/>
<circle cx="433.5" cy="307.5" r="2.8"/>
<circle cx="434.5" cy="237.5" r="2.8"/>
<circle cx="434.5" cy="278.5" r="2.8"/>
<circle cx="434.5" cy="304.5" r="2.8"/>
<circle cx="434.5" cy="333.5" r="2.8"/>
<circle cx="435.5" cy="211.5" r="2.8"/>
<circle cx="435.5" cy="231.5" r="2.8"/>
<circle cx="435.5" cy="332.5" r="2.8"/>
<circle cx="436.5" cy="266.5" r="2.8"/>
<circle cx="436.5" cy="272.5" r="2.8"/>
<circle cx="436.5" cy="281.5" r="2.8"/>
<circle cx="437.5" cy="222.5" r="2.8"/>
<circle cx="437.5" cy="228.5" r="2.8"/>
<circle cx="437.5" cy="262.5" r="2.8"/>
<circle cx="438.5" cy="226.5" r="2.8"/>
<circle cx="438.5" cy="227.5" r="2.8"/>
<circle cx="438.5" cy="228.5" r="2.8"/>
<circle cx="438.5" cy="235.5" r="2.8"/>
<circle cx="438.5" cy="255.5" r="2.8"/>
<circle cx="439.5" cy="199.5" r="2.8"/>
<circle cx="439.5" cy="213.5" r="2.8"/>
<circle cx="439.5" cy="226.5" r="2.8"/>
<circle cx="439.5" cy="228.5" r="2.8"/>
<circle cx="439.5" cy="230.5" r="2.8"/>
<circle cx="439.5" cy="256.5" r="2.8"/>
<circle cx="439.5" cy="260.5" r="2.8"/>
<circle cx="439.5" cy="295.5" r="2.8"/>
<circle cx="440.5" cy="200.5" r="2.8"/>
<circle cx="440.5" cy="213.5" r="2.8"/>
<circle cx="440.5" cy="237.5" r="2.8"/>
<circle cx="440.5" cy="245.5" r="2.8"/>
<circle cx="440.5" cy="246.5" r="2.8"/>
<circle cx="441.5" cy="194.5" r="2.8"/>
<circle cx="441.5" cy="201.5" r="2.8"/>
<circle cx="441.5" cy="212.5" r="2.8"/>
<circle cx="441.5" cy="215.5" r="2.8"/>
<circle cx="441.5" cy="227.5" r="2.8"/>
<circle cx="441.5" cy="232.5" r="2.8"/>
<circle cx="441.5" cy="236.5" r="2.8"/>
<circle cx="441.5" cy="246.5" r="2.8"/>
<circle cx="441.5" cy="256.5" r="2.8"/>
<circle cx="441.5" cy="259.5" r="2.8"/>
<circle cx="441.5" cy="266.5" r="2.8"/>
<circle cx="442.5" cy="202.5" r="2.8"/>
<circle cx="442.5" cy="204.5" r="2.8"/>
<circle cx="442.5" cy="212.5" r="2.8"/>
<circle cx="442.5" cy="228.5" r="2.8"/>
<circle cx="442.5" cy="240.5" r="2.8"/>
<circle cx="442.5" cy="246.5" r="2.8"/>
<circle cx="442.5" cy="261.5" r="2.8"/>
<circle cx="442.5" cy="263.5" r="2.8"/>
<circle cx="442.5" cy="274.5" r="2.8"/>
<circle cx="443.5" cy="230.5" r="2.8"/>
<circle cx="443.5" cy="247.5" r="2.8"/>
<circle cx="443.5" cy="255.5" r="2.8"/>
<circle cx="443.5" cy="257.5" r="2.8"/>
<circle cx="443.5" cy="276.5" r="2.8"/>
<circle cx="443.5" cy="296.5" r="2.8"/>
<circle cx="444.5" cy="216.5" r="2.8"/>
<circle cx="444.5" cy="219.5" r="2.8"/>
<circle cx="444.5" cy="226.5" r="2.8"/>
<circle cx="444.5" cy="241.5" r="2.8"/>
<circle cx="444.5" cy="243.5" r="2.8"/>
<circle cx="444.5" cy="244.5" r="2.8"/>
<circle cx="444.5" cy="254.5" r="2.8"/>
<circle cx="445.5" cy="207.5" r="2.8"/>
<circle cx="445.5" cy="250.5" r="2.8"/>
<circle cx="446.5" cy="190.5" r="2.8"/>
<circle cx="446.5" cy="207.5" r="2.8"/>
<circle cx="446.5" cy="229.5" r="2.8"/>
<circle cx="446.5" cy="237.5" r="2.8"/>
<circle cx="446.5" cy="254.5" r="2.8"/>
<circle cx="447.5" cy="151.5" r="2.8"/>
<circle cx="447.5" cy="155.5" r="2.8"/>
<circle cx="447.5" cy="179.5" r="2.8"/>
<circle cx="447.5" cy="199.5" r="2.8"/>
<circle cx="448.5" cy="169.5" r="2.8"/>
<circle cx="448.5" cy="208.5" r="2.8"/>
<circle cx="448.5" cy="222.5" r="2.8"/>
<circle cx="448.5" cy="223.5" r="2.8"/>
<circle cx="448.5" cy="224.5" r="2.8"/>
<circle cx="448.5" cy="226.5" r="2.8"/>
<circle cx="448.5" cy="265.5" r="2.8"/>
<circle cx="448.5" cy="306.5" r="2.8"/>
<circle cx="449.5" cy="167.5" r="2.8"/>
<circle cx="449.5" cy="195.5" r="2.8"/>
<circle cx="449.5" cy="196.5" r="2.8"/>
<circle cx="449.5" cy="197.5" r="2.8"/>
<circle cx="449.5" cy="224.5" r="2.8"/>
<circle cx="449.5" cy="256.5" r="2.8"/>
<circle cx="449.5" cy="281.5" r="2.8"/>
<circle cx="449.5" cy="309.5" r="2.8"/>
<circle cx="450.5" cy="74.5" r="2.8"/>
<circle cx="450.5" cy="198.5" r="2.8"/>
<circle cx="450.5" cy="296.5" r="2.8"/>
<circle cx="451.5" cy="169.5" r="2.8"/>
<circle cx="451.5" cy="182.5" r="2.8"/>
<circle cx="451.5" cy="185.5" r="2.8"/>
<circle cx="451.5" cy="186.5" r="2.8"/>
<circle cx="451.5" cy="207.5" r="2.8"/>
<circle cx="451.5" cy="211.5" r="2.8"/>
<circle cx="451.5" cy="235.5" r="2.8"/>
<circle cx="452.5" cy="164.5" r="2.8"/>
<circle cx="452.5" cy="227.5" r="2.8"/>
<circle cx="453.5" cy="137.5" r="2.8"/>
<circle cx="453.5" cy="152.5" r="2.8"/>
<circle cx="453.5" cy="174.5" r="2.8"/>
<circle cx="453.5" cy="181.5" r="2.8"/>
<circle cx="453.5" cy="201.5" r="2.8"/>
<circle cx="454.5" cy="133.5" r="2.8"/>
<circle cx="454.5" cy="140.5" r="2.8"/>
<circle cx="454.5" cy="182.5" r="2.8"/>
<circle cx="454.5" cy="205.5" r="2.8"/>
<circle cx="454.5" cy="212.5" r="2.8"/>
<circle cx="455.5" cy="99.5" r="2.8"/>
<circle cx="455.5" cy="107.5" r="2.8"/>
<circle cx="455.5" cy="142.5" r="2.8"/>
<circle cx="455.5" cy="155.5" r="2.8"/>
<circle cx="455.5" cy="177.5" r="2.8"/>
<circle cx="455.5" cy="179.5" r="2.8"/>
<circle cx="455.5" cy="204.5" r="2.8"/>
<circle cx="455.5" cy="207.5" r="2.8"/>
<circle cx="455.5" cy="272.5" r="2.8"/>
<circle cx="456.5" cy="119.5" r="2.8"/>
<circle cx="456.5" cy="129.5" r="2.8"/>
<circle cx="456.5" cy="181.5" r="2.8"/>
<circle cx="457.5" cy="157.5" r="2.8"/>
<circle cx="457.5" cy="245.5" r="2.8"/>
<circle cx="457.5" cy="246.5" r="2.8"/>
<circle cx="458.5" cy="132.5" r="2.8"/>
<circle cx="458.5" cy="147.5" r="2.8"/>
<circle cx="458.5" cy="149.5" r="2.8"/>
<circle cx="458.5" cy="152.5" r="2.8"/>
<circle cx="458.5" cy="192.5" r="2.8"/>
<circle cx="458.5" cy="207.5" r="2.8"/>
<circle cx="458.5" cy="209.5" r="2.8"/>
<circle cx="458.5" cy="247.5" r="2.8"/>
<circle cx="459.5" cy="176.5" r="2.8"/>
<circle cx="459.5" cy="179.5" r="2.8"/>
<circle cx="459.5" cy="226.5" r="2.8"/>
<circle cx="459.5" cy="248.5" r="2.8"/>
<circle cx="459.5" cy="250.5" r="2.8"/>
<circle cx="459.5" cy="251.5" r="2.8"/>
<circle cx="460.5" cy="219.5" r="2.8"/>
<circle cx="460.5" cy="239.5" r="2.8"/>
<circle cx="460.5" cy="304.5" r="2.8"/>
<circle cx="461.5" cy="182.5" r="2.8"/>
<circle cx="461.5" cy="191.5" r="2.8"/>
<circle cx="461.5" cy="196.5" r="2.8"/>
<circle cx="461.5" cy="212.5" r="2.8"/>
<circle cx="461.5" cy="290.5" r="2.8"/>
<circle cx="462.5" cy="173.5" r="2.8"/>
<circle cx="462.5" cy="221.5" r="2.8"/>
<circle cx="462.5" cy="227.5" r="2.8"/>
<circle cx="462.5" cy="246.5" r="2.8"/>
<circle cx="463.5" cy="177.5" r="2.8"/>
<circle cx="463.5" cy="202.5" r="2.8"/>
<circle cx="463.5" cy="221.5" r="2.8"/>
<circle cx="463.5" cy="275.5" r="2.8"/>
<circle cx="464.5" cy="184.5" r="2.8"/>
<circle cx="464.5" cy="216.5" r="2.8"/>
<circle cx="464.5" cy="239.5" r="2.8"/>
<circle cx="464.5" cy="245.5" r="2.8"/>
<circle cx="464.5" cy="246.5" r="2.8"/>
<circle cx="464.5" cy="290.5" r="2.8"/>
<circle cx="465.5" cy="254.5" r="2.8"/>
<circle cx="465.5" cy="265.5" r="2.8"/>
<circle cx="465.5" cy="266.5" r="2.8"/>
<circle cx="466.5" cy="181.5" r="2.8"/>
<circle cx="466.5" cy="187.5" r="2.8"/>
<circle cx="466.5" cy="206.5" r="2.8"/>
<circle cx="466.5" cy="211.5" r="2.8"/>
<circle cx="466.5" cy="222.5" r="2.8"/>
<circle cx="466.5" cy="226.5" r="2.8"/>
<circle cx="466.5" cy="237.5" r="2.8"/>
<circle cx="466.5" cy="239.5" r="2.8"/>
<circle cx="466.5" cy="258.5" r="2.8"/>
<circle cx="467.5" cy="185.5" r="2.8"/>
<circle cx="467.5" cy="189.5" r="2.8"/>
<circle cx="467.5" cy="190.5" r="2.8"/>
<circle cx="467.5" cy="206.5" r="2.8"/>
<circle cx="467.5" cy="266.5" r="2.8"/>
<circle cx="467.5" cy="271.5" r="2.8"/>
<circle cx="467.5" cy="272.5" r="2.8"/>
<circle cx="468.5" cy="196.5" r="2.8"/>
<circle cx="468.5" cy="223.5" r="2.8"/>
<circle cx="468.5" cy="232.5" r="2.8"/>
<circle cx="468.5" cy="256.5" r="2.8"/>
<circle cx="468.5" cy="289.5" r="2.8"/>
<circle cx="469.5" cy="230.5" r="2.8"/>
<circle cx="469.5" cy="253.5" r="2.8"/>
<circle cx="469.5" cy="266.5" r="2.8"/>
<circle cx="470.5" cy="221.5" r="2.8"/>
<circle cx="470.5" cy="223.5" r="2.8"/>
<circle cx="470.5" cy="228.5" r="2.8"/>
<circle cx="470.5" cy="269.5" r="2.8"/>
<circle cx="470.5" cy="274.5" r="2.8"/>
<circle cx="471.5" cy="210.5" r="2.8"/>
<circle cx="471.5" cy="217.5" r="2.8"/>
<circle cx="471.5" cy="222.5" r="2.8"/>
<circle cx="471.5" cy="236.5" r="2.8"/>
<circle cx="471.5" cy="256.5" r="2.8"/>
<circle cx="471.5" cy="265.5" r="2.8"/>
<circle cx="473.5" cy="262.5" r="2.8"/>
<circle cx="473.5" cy="269.5" r="2.8"/>
<circle cx="473.5" cy="279.5" r="2.8"/>
<circle cx="473.5" cy="304.5" r="2.8"/>
<circle cx="474.5" cy="260.5" r="2.8"/>
<circle cx="474.5" cy="274.5" r="2.8"/>
<circle cx="474.5" cy="289.5" r="2.8"/>
<circle cx="475.5" cy="263.5" r="2.8"/>
<circle cx="475.5" cy="310.5" r="2.8"/>
<circle cx="476.5" cy="258.5" r="2.8"/>
<circle cx="476.5" cy="265.5" r="2.8"/>
<circle cx="476.5" cy="282.5" r="2.8"/>
<circle cx="476.5" cy="324.5" r="2.8"/>
<circle cx="476.5" cy="351.5" r="2.8"/>
<circle cx="477.5" cy="228.5" r="2.8"/>
<circle cx="478.5" cy="269.5" r="2.8"/>
<circle cx="479.5" cy="237.5" r="2.8"/>
<circle cx="479.5" cy="241.5" r="2.8"/>
<circle cx="479.5" cy="251.5" r="2.8"/>
<circle cx="479.5" cy="286.5" r="2.8"/>
<circle cx="479.5" cy="301.5" r="2.8"/>
<circle cx="480.5" cy="245.5" r="2.8"/>
<circle cx="480.5" cy="293.5" r="2.8"/>
<circle cx="481.5" cy="246.5" r="2.8"/>
<circle cx="481.5" cy="248.5" r="2.8"/>
<circle cx="481.5" cy="269.5" r="2.8"/>
<circle cx="481.5" cy="304.5" r="2.8"/>
<circle cx="481.5" cy="336.5" r="2.8"/>
<circle cx="482.5" cy="242.5" r="2.8"/>
<circle cx="482.5" cy="260.5" r="2.8"/>
<circle cx="482.5" cy="275.5" r="2.8"/>
<circle cx="483.5" cy="237.5" r="2.8"/>
<circle cx="483.5" cy="269.5" r="2.8"/>
<circle cx="484.5" cy="218.5" r="2.8"/>
<circle cx="484.5" cy="271.5" r="2.8"/>
<circle cx="484.5" cy="302.5" r="2.8"/>
<circle cx="496.5" cy="206.5" r="2.8"/>
<circle cx="496.5" cy="223.5" r="2.8"/>
<circle cx="498.5" cy="206.5" r="2.8"/>
<circle cx="498.5" cy="211.5" r="2.8"/>
<circle cx="498.5" cy="227.5" r="2.8"/>
<circle cx="498.5" cy="241.5" r="2.8"/>
<circle cx="498.5" cy="252.5" r="2.8"/>
<circle cx="499.5" cy="226.5" r="2.8"/>
<circle cx="499.5" cy="239.5" r="2.8"/>
<circle cx="499.5" cy="256.5" r="2.8"/>
<circle cx="500.5" cy="221.5" r="2.8"/>
<circle cx="500.5" cy="244.5" r="2.8"/>
<circle cx="500.5" cy="262.5" r="2.8"/>
<circle cx="501.5" cy="225.5" r="2.8"/>
<circle cx="501.5" cy="237.5" r="2.8"/>
<circle cx="501.5" cy="260.5" r="2.8"/>
<circle cx="501.5" cy="299.5" r="2.8"/>
<circle cx="502.5" cy="209.5" r="2.8"/>
<circle cx="502.5" cy="217.5" r="2.8"/>
<circle cx="502.5" cy="263.5" r="2.8"/>
<circle cx="502.5" cy="278.5" r="2.8"/>
<circle cx="503.5" cy="218.5" r="2.8"/>
<circle cx="503.5" cy="219.5" r="2.8"/>
<circle cx="503.5" cy="227.5" r="2.8"/>
<circle cx="503.5" cy="248.5" r="2.8"/>
<circle cx="503.5" cy="250.5" r="2.8"/>
<circle cx="503.5" cy="258.5" r="2.8"/>
<circle cx="504.5" cy="242.5" r="2.8"/>
<circle cx="504.5" cy="246.5" r="2.8"/>
<circle cx="504.5" cy="247.5" r="2.8"/>
<circle cx="504.5" cy="250.5" r="2.8"/>
<circle cx="504.5" cy="254.5" r="2.8"/>
<circle cx="504.5" cy="266.5" r="2.8"/>
<circle cx="505.5" cy="195.5" r="2.8"/>
<circle cx="505.5" cy="231.5" r="2.8"/>
<circle cx="505.5" cy="309.5" r="2.8"/>
<circle cx="506.5" cy="170.5" r="2.8"/>
<circle cx="506.5" cy="199.5" r="2.8"/>
<circle cx="506.5" cy="207.5" r="2.8"/>
<circle cx="506.5" cy="224.5" r="2.8"/>
<circle cx="506.5" cy="232.5" r="2.8"/>
<circle cx="506.5" cy="335.5" r="2.8"/>
<circle cx="506.5" cy="338.5" r="2.8"/>
<circle cx="507.5" cy="204.5" r="2.8"/>
<circle cx="507.5" cy="207.5" r="2.8"/>
<circle cx="507.5" cy="220.5" r="2.8"/>
<circle cx="507.5" cy="226.5" r="2.8"/>
<circle cx="507.5" cy="231.5" r="2.8"/>
<circle cx="507.5" cy="239.5" r="2.8"/>
<circle cx="507.5" cy="252.5" r="2.8"/>
<circle cx="508.5" cy="199.5" r="2.8"/>
<circle cx="508.5" cy="208.5" r="2.8"/>
<circle cx="508.5" cy="220.5" r="2.8"/>
<circle cx="508.5" cy="252.5" r="2.8"/>
<circle cx="508.5" cy="265.5" r="2.8"/>
<circle cx="509.5" cy="184.5" r="2.8"/>
<circle cx="509.5" cy="197.5" r="2.8"/>
<circle cx="509.5" cy="222.5" r="2.8"/>
<circle cx="509.5" cy="235.5" r="2.8"/>
<circle cx="509.5" cy="252.5" r="2.8"/>
<circle cx="510.5" cy="172.5" r="2.8"/>
<circle cx="510.5" cy="188.5" r="2.8"/>
<circle cx="510.5" cy="223.5" r="2.8"/>
<circle cx="510.5" cy="271.5" r="2.8"/>
<circle cx="511.5" cy="196.5" r="2.8"/>
<circle cx="511.5" cy="198.5" r="2.8"/>
<circle cx="511.5" cy="203.5" r="2.8"/>
<circle cx="511.5" cy="230.5" r="2.8"/>
<circle cx="512.5" cy="216.5" r="2.8"/>
<circle cx="512.5" cy="226.5" r="2.8"/>
<circle cx="513.5" cy="139.5" r="2.8"/>
<circle cx="513.5" cy="163.5" r="2.8"/>
<circle cx="513.5" cy="174.5" r="2.8"/>
<circle cx="513.5" cy="234.5" r="2.8"/>
<circle cx="513.5" cy="241.5" r="2.8"/>
<circle cx="513.5" cy="244.5" r="2.8"/>
<circle cx="513.5" cy="251.5" r="2.8"/>
<circle cx="513.5" cy="300.5" r="2.8"/>
<circle cx="514.5" cy="186.5" r="2.8"/>
<circle cx="514.5" cy="200.5" r="2.8"/>
<circle cx="514.5" cy="213.5" r="2.8"/>
<circle cx="514.5" cy="216.5" r="2.8"/>
<circle cx="514.5" cy="226.5" r="2.8"/>
<circle cx="515.5" cy="204.5" r="2.8"/>
<circle cx="515.5" cy="211.5" r="2.8"/>
<circle cx="515.5" cy="231.5" r="2.8"/>
<circle cx="516.5" cy="180.5" r="2.8"/>
<circle cx="516.5" cy="189.5" r="2.8"/>
<circle cx="516.5" cy="202.5" r="2.8"/>
<circle cx="516.5" cy="217.5" r="2.8"/>
<circle cx="516.5" cy="222.5" r="2.8"/>
<circle cx="516.5" cy="259.5" r="2.8"/>
<circle cx="517.5" cy="249.5" r="2.8"/>
<circle cx="517.5" cy="270.5" r="2.8"/>
<circle cx="518.5" cy="206.5" r="2.8"/>
<circle cx="518.5" cy="219.5" r="2.8"/>
<circle cx="518.5" cy="239.5" r="2.8"/>
<circle cx="518.5" cy="251.5" r="2.8"/>
<circle cx="518.5" cy="268.5" r="2.8"/>
<circle cx="519.5" cy="199.5" r="2.8"/>
<circle cx="519.5" cy="226.5" r="2.8"/>
<circle cx="519.5" cy="244.5" r="2.8"/>
<circle cx="519.5" cy="247.5" r="2.8"/>
<circle cx="519.5" cy="266.5" r="2.8"/>
<circle cx="519.5" cy="271.5" r="2.8"/>
<circle cx="520.5" cy="198.5" r="2.8"/>
<circle cx="520.5" cy="209.5" r="2.8"/>
<circle cx="520.5" cy="231.5" r="2.8"/>
<circle cx="520.5" cy="236.5" r="2.8"/>
<circle cx="521.5" cy="187.5" r="2.8"/>
<circle cx="521.5" cy="203.5" r="2.8"/>
<circle cx="521.5" cy="241.5" r="2.8"/>
<circle cx="521.5" cy="273.5" r="2.8"/>
<circle cx="522.5" cy="232.5" r="2.8"/>
<circle cx="523.5" cy="185.5" r="2.8"/>
<circle cx="523.5" cy="207.5" r="2.8"/>
<circle cx="523.5" cy="230.5" r="2.8"/>
<circle cx="523.5" cy="237.5" r="2.8"/>
<circle cx="523.5" cy="256.5" r="2.8"/>
<circle cx="523.5" cy="285.5" r="2.8"/>
<circle cx="524.5" cy="191.5" r="2.8"/>
<circle cx="524.5" cy="196.5" r="2.8"/>
<circle cx="524.5" cy="212.5" r="2.8"/>
<circle cx="524.5" cy="229.5" r="2.8"/>
<circle cx="524.5" cy="236.5" r="2.8"/>
<circle cx="524.5" cy="237.5" r="2.8"/>
<circle cx="524.5" cy="238.5" r="2.8"/>
<circle cx="524.5" cy="239.5" r="2.8"/>
<circle cx="524.5" cy="278.5" r="2.8"/>
<circle cx="524.5" cy="326.5" r="2.8"/>
<circle cx="525.5" cy="185.5" r="2.8"/>
<circle cx="526.5" cy="169.5" r="2.8"/>
<circle cx="526.5" cy="178.5" r="2.8"/>
<circle cx="526.5" cy="219.5" r="2.8"/>
<circle cx="527.5" cy="126.5" r="2.8"/>
<circle cx="527.5" cy="152.5" r="2.8"/>
<circle cx="527.5" cy="164.5" r="2.8"/>
<circle cx="527.5" cy="183.5" r="2.8"/>
<circle cx="527.5" cy="184.5" r="2.8"/>
<circle cx="527.5" cy="192.5" r="2.8"/>
<circle cx="527.5" cy="222.5" r="2.8"/>
<circle cx="528.5" cy="167.5" r="2.8"/>
<circle cx="528.5" cy="175.5" r="2.8"/>
<circle cx="528.5" cy="184.5" r="2.8"/>
<circle cx="528.5" cy="194.5" r="2.8"/>
<circle cx="528.5" cy="221.5" r="2.8"/>
<circle cx="528.5" cy="241.5" r="2.8"/>
<circle cx="529.5" cy="125.5" r="2.8"/>
<circle cx="529.5" cy="188.5" r="2.8"/>
<circle cx="529.5" cy="237.5" r="2.8"/>
<circle cx="530.5" cy="154.5" r="2.8"/>
<circle cx="530.5" cy="170.5" r="2.8"/>
<circle cx="530.5" cy="172.5" r="2.8"/>
<circle cx="530.5" cy="181.5" r="2.8"/>
<circle cx="530.5" cy="212.5" r="2.8"/>
<circle cx="530.5" cy="274.5" r="2.8"/>
<circle cx="531.5" cy="124.5" r="2.8"/>
<circle cx="531.5" cy="166.5" r="2.8"/>
<circle cx="531.5" cy="184.5" r="2.8"/>
<circle cx="531.5" cy="226.5" r="2.8"/>
<circle cx="531.5" cy="294.5" r="2.8"/>
<circle cx="532.5" cy="162.5" r="2.8"/>
<circle cx="532.5" cy="166.5" r="2.8"/>
<circle cx="532.5" cy="167.5" r="2.8"/>
<circle cx="532.5" cy="223.5" r="2.8"/>
<circle cx="532.5" cy="248.5" r="2.8"/>
<circle cx="533.5" cy="205.5" r="2.8"/>
<circle cx="533.5" cy="222.5" r="2.8"/>
<circle cx="533.5" cy="226.5" r="2.8"/>
<circle cx="533.5" cy="232.5" r="2.8"/>
<circle cx="533.5" cy="234.5" r="2.8"/>
<circle cx="533.5" cy="254.5" r="2.8"/>
<circle cx="534.5" cy="172.5" r="2.8"/>
<circle cx="534.5" cy="197.5" r="2.8"/>
<circle cx="534.5" cy="204.5" r="2.8"/>
<circle cx="534.5" cy="212.5" r="2.8"/>
<circle cx="534.5" cy="221.5" r="2.8"/>
<circle cx="534.5" cy="235.5" r="2.8"/>
<circle cx="535.5" cy="187.5" r="2.8"/>
<circle cx="535.5" cy="201.5" r="2.8"/>
<circle cx="535.5" cy="203.5" r="2.8"/>
<circle cx="535.5" cy="206.5" r="2.8"/>
<circle cx="535.5" cy="212.5" r="2.8"/>
<circle cx="535.5" cy="221.5" r="2.8"/>
<circle cx="535.5" cy="222.5" r="2.8"/>
<circle cx="535.5" cy="228.5" r="2.8"/>
<circle cx="535.5" cy="237.5" r="2.8"/>
<circle cx="535.5" cy="264.5" r="2.8"/>
<circle cx="536.5" cy="139.5" r="2.8"/>
<circle cx="536.5" cy="170.5" r="2.8"/>
<circle cx="536.5" cy="181.5" r="2.8"/>
<circle cx="536.5" cy="192.5" r="2.8"/>
<circle cx="536.5" cy="202.5" r="2.8"/>
<circle cx="536.5" cy="214.5" r="2.8"/>
<circle cx="536.5" cy="230.5" r="2.8"/>
<circle cx="536.5" cy="234.5" r="2.8"/>
<circle cx="537.5" cy="211.5" r="2.8"/>
<circle cx="537.5" cy="218.5" r="2.8"/>
<circle cx="537.5" cy="231.5" r="2.8"/>
<circle cx="538.5" cy="173.5" r="2.8"/>
<circle cx="538.5" cy="184.5" r="2.8"/>
<circle cx="538.5" cy="207.5" r="2.8"/>
<circle cx="538.5" cy="217.5" r="2.8"/>
<circle cx="539.5" cy="187.5" r="2.8"/>
<circle cx="539.5" cy="196.5" r="2.8"/>
<circle cx="539.5" cy="225.5" r="2.8"/>
<circle cx="539.5" cy="238.5" r="2.8"/>
<circle cx="540.5" cy="147.5" r="2.8"/>
<circle cx="540.5" cy="182.5" r="2.8"/>
<circle cx="540.5" cy="194.5" r="2.8"/>
<circle cx="540.5" cy="204.5" r="2.8"/>
<circle cx="540.5" cy="216.5" r="2.8"/>
<circle cx="541.5" cy="180.5" r="2.8"/>
<circle cx="541.5" cy="183.5" r="2.8"/>
<circle cx="541.5" cy="191.5" r="2.8"/>
<circle cx="541.5" cy="211.5" r="2.8"/>
<circle cx="541.5" cy="229.5" r="2.8"/>
<circle cx="542.5" cy="170.5" r="2.8"/>
<circle cx="542.5" cy="216.5" r="2.8"/>
<circle cx="543.5" cy="159.5" r="2.8"/>
<circle cx="543.5" cy="198.5" r="2.8"/>
<circle cx="543.5" cy="239.5" r="2.8"/>
<circle cx="543.5" cy="244.5" r="2.8"/>
<circle cx="544.5" cy="156.5" r="2.8"/>
<circle cx="544.5" cy="183.5" r="2.8"/>
<circle cx="544.5" cy="201.5" r="2.8"/>
<circle cx="544.5" cy="212.5" r="2.8"/>
<circle cx="544.5" cy="214.5" r="2.8"/>
<circle cx="544.5" cy="226.5" r="2.8"/>
<circle cx="544.5" cy="247.5" r="2.8"/>
<circle cx="545.5" cy="201.5" r="2.8"/>
<circle cx="545.5" cy="213.5" r="2.8"/>
<circle cx="545.5" cy="228.5" r="2.8"/>
<circle cx="545.5" cy="237.5" r="2.8"/>
<circle cx="545.5" cy="262.5" r="2.8"/>
<circle cx="546.5" cy="215.5" r="2.8"/>
<circle cx="546.5" cy="218.5" r="2.8"/>
<circle cx="546.5" cy="256.5" r="2.8"/>
<circle cx="547.5" cy="241.5" r="2.8"/>
<circle cx="547.5" cy="257.5" r="2.8"/>
<circle cx="548.5" cy="228.5" r="2.8"/>
<circle cx="548.5" cy="244.5" r="2.8"/>
<circle cx="548.5" cy="248.5" r="2.8"/>
<circle cx="548.5" cy="263.5" r="2.8"/>
<circle cx="549.5" cy="215.5" r="2.8"/>
<circle cx="549.5" cy="229.5" r="2.8"/>
<circle cx="549.5" cy="236.5" r="2.8"/>
<circle cx="549.5" cy="252.5" r="2.8"/>
<circle cx="549.5" cy="262.5" r="2.8"/>
<circle cx="549.5" cy="272.5" r="2.8"/>
<circle cx="549.5" cy="273.5" r="2.8"/>
<circle cx="550.5" cy="214.5" r="2.8"/>
<circle cx="550.5" cy="259.5" r="2.8"/>
<circle cx="550.5" cy="266.5" r="2.8"/>
<circle cx="550.5" cy="278.5" r="2.8"/>
<circle cx="551.5" cy="226.5" r="2.8"/>
<circle cx="551.5" cy="237.5" r="2.8"/>
<circle cx="551.5" cy="255.5" r="2.8"/>
<circle cx="551.5" cy="279.5" r="2.8"/>
<circle cx="552.5" cy="203.5" r="2.8"/>
<circle cx="552.5" cy="211.5" r="2.8"/>
<circle cx="552.5" cy="241.5" r="2.8"/>
<circle cx="553.5" cy="216.5" r="2.8"/>
<circle cx="553.5" cy="224.5" r="2.8"/>
<circle cx="553.5" cy="226.5" r="2.8"/>
<circle cx="553.5" cy="281.5" r="2.8"/>
<circle cx="553.5" cy="292.5" r="2.8"/>
<circle cx="553.5" cy="296.5" r="2.8"/>
</g>
<rect x="80.5" y="58.8" width="496" height="368.8" fill="none" stroke="#000" stroke-width="1.1"/>
<g stroke="#000" stroke-width="1.1">
<path d="M132.3 427.5v5M209.3 427.5v5M286.3 427.5v5M363.6 427.5v5M440.9 427.5v5M518.2 427.5v5"/>
<path d="M80 72.5h-5M80 143.5h-5M80 214.5h-5M80 285.5h-5M80 356.5h-5M80 427.1h-5"/>
</g>
<g font-size="14.4" text-anchor="middle">
<text x="131.8" y="448.5" textLength="33.3" lengthAdjust="spacing">2014</text><text x="208.8" y="448.5" textLength="33.3" lengthAdjust="spacing">2015</text><text x="285.8" y="448.5" textLength="33.3" lengthAdjust="spacing">2016</text><text x="363.3" y="448.5" textLength="33.3" lengthAdjust="spacing">2017</text><text x="440.3" y="448.5" textLength="33.3" lengthAdjust="spacing">2018</text><text x="517.3" y="448.5" textLength="33.3" lengthAdjust="spacing">2019</text>
</g>
<g font-size="14.4" text-anchor="end">
<text x="69.8" y="77.5" textLength="28.8" lengthAdjust="spacing">0.04</text><text x="69.8" y="148.5" textLength="28.8" lengthAdjust="spacing">0.03</text><text x="69.8" y="219.5" textLength="28.8" lengthAdjust="spacing">0.02</text><text x="69.8" y="290.5" textLength="28.8" lengthAdjust="spacing">0.01</text><text x="69.8" y="361.5" textLength="28.8" lengthAdjust="spacing">0.00</text><text x="69.8" y="432.5" textLength="28.8" lengthAdjust="spacing">0.01</text><rect x="29.6" y="427.0" width="8.2" height="1.15" fill="#000"/>
</g>
<text font-size="14.4" text-anchor="middle" transform="translate(20,244.4) rotate(-90) scale(1.13,1)">m</text>
<text x="327.8" y="48.6" font-size="17.2" text-anchor="middle">DUTC V</text>
<rect x="87" y="65.5" width="192" height="24.5" rx="2.5" fill="#fff" fill-opacity="0.8" stroke="#ccc" stroke-width="1"/>
<circle cx="106.5" cy="76.5" r="2.7" fill="#f00"/>
<text x="135" y="81.5" font-size="14.8" textLength="138" lengthAdjust="spacing">repro2018a (IGS14)</text>
</svg>
</body></html>
